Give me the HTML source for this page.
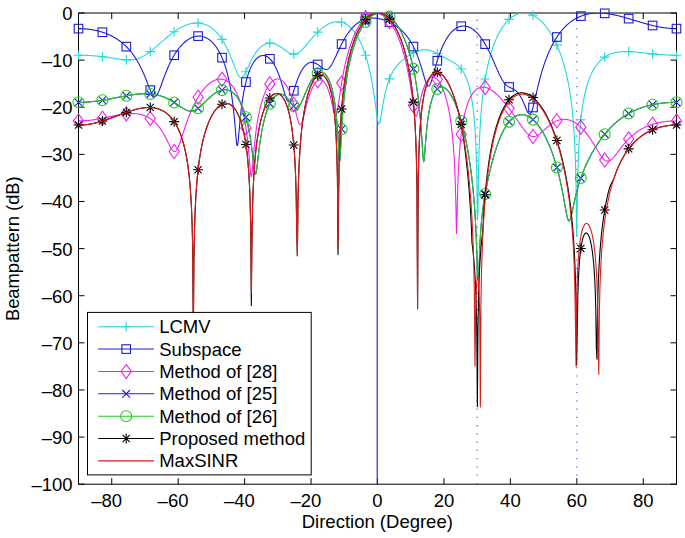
<!DOCTYPE html><html><head><meta charset="utf-8"><style>html,body{margin:0;padding:0;background:#fff;overflow:hidden}svg{display:block}</style></head><body>
<svg width="685" height="538" viewBox="0 0 685 538">
<rect width="685" height="538" fill="#fff"/>
<rect x="78.5" y="13.0" width="598.0" height="471.2" fill="none" stroke="#000" stroke-width="1"/>
<path d="M111.72,484.2v-6M111.72,13.0v6M178.17,484.2v-6M178.17,13.0v6M244.61,484.2v-6M244.61,13.0v6M311.06,484.2v-6M311.06,13.0v6M377.50,484.2v-6M377.50,13.0v6M443.94,484.2v-6M443.94,13.0v6M510.39,484.2v-6M510.39,13.0v6M576.83,484.2v-6M576.83,13.0v6M643.28,484.2v-6M643.28,13.0v6M78.5,13.00h6M676.5,13.00h-6M78.5,60.12h6M676.5,60.12h-6M78.5,107.24h6M676.5,107.24h-6M78.5,154.36h6M676.5,154.36h-6M78.5,201.48h6M676.5,201.48h-6M78.5,248.60h6M676.5,248.60h-6M78.5,295.72h6M676.5,295.72h-6M78.5,342.84h6M676.5,342.84h-6M78.5,389.96h6M676.5,389.96h-6M78.5,437.08h6M676.5,437.08h-6M78.5,484.20h6M676.5,484.20h-6" stroke="#000" stroke-width="1" fill="none"/>
<g clip-path="url(#c)">
<defs><clipPath id="c"><rect x="78.5" y="13.0" width="598.0" height="471.2"/></clipPath></defs>
<line x1="477.17" y1="13.0" x2="477.17" y2="484.2" stroke="#4848d0" stroke-width="1.1" stroke-dasharray="1.2,7.07" stroke-dashoffset="1.5"/>
<line x1="576.83" y1="13.0" x2="576.83" y2="484.2" stroke="#4848d0" stroke-width="1.1" stroke-dasharray="1.2,7.07" stroke-dashoffset="1.5"/>
<line x1="377.20" y1="13.0" x2="377.20" y2="484.2" stroke="#1c1cd8" stroke-width="1.1"/>
</g>
<path clip-path="url(#c)" d="M78.50,55.21 L79.10,55.21 L79.70,55.21 L80.29,55.22 L80.89,55.22 L81.49,55.23 L82.09,55.24 L82.69,55.25 L83.28,55.27 L83.88,55.28 L84.48,55.30 L85.08,55.32 L85.68,55.34 L86.27,55.36 L86.87,55.39 L87.47,55.41 L88.07,55.44 L88.67,55.47 L89.26,55.50 L89.86,55.54 L90.46,55.57 L91.06,55.61 L91.66,55.65 L92.25,55.69 L92.85,55.73 L93.45,55.78 L94.05,55.83 L94.65,55.88 L95.24,55.93 L95.84,55.98 L96.44,56.03 L97.04,56.09 L97.64,56.15 L98.23,56.21 L98.83,56.27 L99.43,56.34 L100.03,56.40 L100.63,56.47 L101.22,56.54 L101.82,56.61 L102.42,56.68 L103.02,56.76 L103.62,56.83 L104.21,56.91 L104.81,56.99 L105.41,57.07 L106.01,57.16 L106.61,57.24 L107.20,57.33 L107.80,57.41 L108.40,57.50 L109.00,57.59 L109.60,57.68 L110.19,57.77 L110.79,57.86 L111.39,57.96 L111.99,58.05 L112.59,58.14 L113.18,58.24 L113.78,58.33 L114.38,58.42 L114.98,58.52 L115.58,58.61 L116.17,58.70 L116.77,58.79 L117.37,58.88 L117.97,58.97 L118.57,59.06 L119.16,59.14 L119.76,59.23 L120.36,59.31 L120.96,59.38 L121.56,59.46 L122.15,59.53 L122.75,59.59 L123.35,59.65 L123.95,59.71 L124.55,59.76 L125.14,59.80 L125.74,59.84 L126.34,59.88 L126.94,59.90 L127.54,59.92 L128.13,59.93 L128.73,59.93 L129.33,59.92 L129.93,59.90 L130.53,59.88 L131.12,59.84 L131.72,59.79 L132.32,59.73 L132.92,59.66 L133.52,59.58 L134.11,59.48 L134.71,59.37 L135.31,59.25 L135.91,59.11 L136.51,58.96 L137.10,58.80 L137.70,58.62 L138.30,58.42 L138.90,58.22 L139.50,57.99 L140.09,57.75 L140.69,57.50 L141.29,57.23 L141.89,56.95 L142.49,56.66 L143.08,56.34 L143.68,56.02 L144.28,55.68 L144.88,55.33 L145.48,54.96 L146.07,54.58 L146.67,54.19 L147.27,53.79 L147.87,53.37 L148.47,52.95 L149.06,52.51 L149.66,52.06 L150.26,51.61 L150.86,51.14 L151.46,50.67 L152.05,50.19 L152.65,49.70 L153.25,49.20 L153.85,48.70 L154.45,48.20 L155.04,47.69 L155.64,47.17 L156.24,46.65 L156.84,46.13 L157.44,45.60 L158.03,45.08 L158.63,44.55 L159.23,44.02 L159.83,43.49 L160.43,42.96 L161.02,42.43 L161.62,41.91 L162.22,41.38 L162.82,40.86 L163.42,40.33 L164.01,39.82 L164.61,39.30 L165.21,38.79 L165.81,38.28 L166.41,37.77 L167.00,37.27 L167.60,36.78 L168.20,36.29 L168.80,35.80 L169.40,35.32 L169.99,34.85 L170.59,34.38 L171.19,33.92 L171.79,33.47 L172.39,33.02 L172.98,32.58 L173.58,32.15 L174.18,31.73 L174.78,31.31 L175.38,30.90 L175.97,30.50 L176.57,30.11 L177.17,29.73 L177.77,29.35 L178.37,28.99 L178.96,28.63 L179.56,28.29 L180.16,27.95 L180.76,27.62 L181.36,27.30 L181.95,27.00 L182.55,26.70 L183.15,26.41 L183.75,26.13 L184.35,25.87 L184.94,25.61 L185.54,25.37 L186.14,25.13 L186.74,24.91 L187.34,24.70 L187.93,24.50 L188.53,24.31 L189.13,24.14 L189.73,23.97 L190.33,23.82 L190.92,23.68 L191.52,23.55 L192.12,23.44 L192.72,23.34 L193.32,23.25 L193.91,23.17 L194.51,23.11 L195.11,23.06 L195.71,23.03 L196.31,23.00 L196.90,23.00 L197.50,23.00 L198.10,23.03 L198.70,23.06 L199.30,23.11 L199.89,23.18 L200.49,23.26 L201.09,23.36 L201.69,23.47 L202.29,23.60 L202.88,23.75 L203.48,23.91 L204.08,24.09 L204.68,24.29 L205.28,24.50 L205.87,24.74 L206.47,24.99 L207.07,25.26 L207.67,25.54 L208.27,25.85 L208.86,26.18 L209.46,26.53 L210.06,26.90 L210.66,27.29 L211.26,27.70 L211.85,28.13 L212.45,28.59 L213.05,29.06 L213.65,29.57 L214.25,30.09 L214.84,30.64 L215.44,31.22 L216.04,31.82 L216.64,32.45 L217.24,33.10 L217.83,33.78 L218.43,34.49 L219.03,35.24 L219.63,36.01 L220.23,36.81 L220.82,37.64 L221.42,38.51 L222.02,39.40 L222.62,40.34 L223.22,41.31 L223.81,42.31 L224.41,43.35 L225.01,44.43 L225.61,45.54 L226.21,46.70 L226.80,47.90 L227.40,49.13 L228.00,50.40 L228.60,51.72 L229.20,53.07 L229.79,54.47 L230.39,55.90 L230.99,57.36 L231.59,58.86 L232.19,60.38 L232.78,61.93 L233.38,63.49 L233.98,65.06 L234.58,66.62 L235.18,68.16 L235.77,69.67 L236.37,71.11 L236.97,72.48 L237.57,73.74 L238.17,74.87 L238.76,75.83 L239.36,76.62 L239.96,77.19 L240.56,77.54 L241.16,77.67 L241.75,77.56 L242.35,77.23 L242.95,76.69 L243.55,75.97 L244.15,75.09 L244.74,74.07 L245.34,72.96 L245.94,71.76 L246.54,70.51 L247.14,69.22 L247.73,67.91 L248.33,66.60 L248.93,65.30 L249.53,64.01 L250.13,62.75 L250.72,61.52 L251.32,60.32 L251.92,59.16 L252.52,58.04 L253.12,56.96 L253.71,55.93 L254.31,54.94 L254.91,53.99 L255.51,53.09 L256.11,52.23 L256.70,51.41 L257.30,50.64 L257.90,49.91 L258.50,49.22 L259.10,48.57 L259.69,47.96 L260.29,47.39 L260.89,46.86 L261.49,46.37 L262.09,45.91 L262.68,45.49 L263.28,45.11 L263.88,44.76 L264.48,44.45 L265.08,44.17 L265.67,43.92 L266.27,43.71 L266.87,43.53 L267.47,43.38 L268.07,43.26 L268.66,43.18 L269.26,43.12 L269.86,43.09 L270.46,43.09 L271.06,43.12 L271.65,43.18 L272.25,43.27 L272.85,43.38 L273.45,43.52 L274.05,43.69 L274.64,43.88 L275.24,44.09 L275.84,44.33 L276.44,44.58 L277.04,44.87 L277.63,45.17 L278.23,45.49 L278.83,45.83 L279.43,46.18 L280.03,46.56 L280.62,46.94 L281.22,47.34 L281.82,47.75 L282.42,48.17 L283.02,48.60 L283.61,49.03 L284.21,49.46 L284.81,49.89 L285.41,50.32 L286.01,50.74 L286.60,51.15 L287.20,51.55 L287.80,51.93 L288.40,52.30 L289.00,52.64 L289.59,52.95 L290.19,53.23 L290.79,53.48 L291.39,53.69 L291.99,53.86 L292.58,53.99 L293.18,54.07 L293.78,54.11 L294.38,54.09 L294.98,54.02 L295.57,53.91 L296.17,53.74 L296.77,53.52 L297.37,53.25 L297.97,52.94 L298.56,52.58 L299.16,52.17 L299.76,51.72 L300.36,51.24 L300.96,50.72 L301.55,50.16 L302.15,49.58 L302.75,48.97 L303.35,48.34 L303.95,47.69 L304.54,47.02 L305.14,46.33 L305.74,45.64 L306.34,44.94 L306.94,44.23 L307.53,43.52 L308.13,42.80 L308.73,42.08 L309.33,41.37 L309.93,40.66 L310.52,39.95 L311.12,39.25 L311.72,38.55 L312.32,37.86 L312.92,37.18 L313.51,36.51 L314.11,35.85 L314.71,35.20 L315.31,34.56 L315.91,33.93 L316.50,33.32 L317.10,32.72 L317.70,32.13 L318.30,31.55 L318.90,30.99 L319.49,30.44 L320.09,29.91 L320.69,29.39 L321.29,28.88 L321.89,28.39 L322.48,27.92 L323.08,27.46 L323.68,27.02 L324.28,26.59 L324.88,26.18 L325.47,25.79 L326.07,25.41 L326.67,25.05 L327.27,24.71 L327.87,24.38 L328.46,24.07 L329.06,23.78 L329.66,23.50 L330.26,23.25 L330.86,23.01 L331.45,22.79 L332.05,22.59 L332.65,22.41 L333.25,22.25 L333.85,22.11 L334.44,21.99 L335.04,21.89 L335.64,21.81 L336.24,21.75 L336.84,21.71 L337.43,21.69 L338.03,21.70 L338.63,21.72 L339.23,21.77 L339.83,21.84 L340.42,21.94 L341.02,22.06 L341.62,22.20 L342.22,22.36 L342.82,22.55 L343.41,22.77 L344.01,23.01 L344.61,23.28 L345.21,23.57 L345.81,23.89 L346.40,24.24 L347.00,24.62 L347.60,25.02 L348.20,25.46 L348.80,25.92 L349.39,26.42 L349.99,26.94 L350.59,27.50 L351.19,28.09 L351.79,28.71 L352.38,29.37 L352.98,30.06 L353.58,30.79 L354.18,31.56 L354.78,32.37 L355.37,33.21 L355.97,34.10 L356.57,35.02 L357.17,35.99 L357.77,37.01 L358.36,38.07 L358.96,39.18 L359.56,40.34 L360.16,41.56 L360.76,42.83 L361.35,44.15 L361.95,45.54 L362.55,46.99 L363.15,48.50 L363.75,50.08 L364.34,51.74 L364.94,53.47 L365.54,55.29 L366.14,57.20 L366.74,59.20 L367.33,61.29 L367.93,63.50 L368.53,65.82 L369.13,68.27 L369.73,70.85 L370.32,73.58 L370.92,76.47 L371.52,79.53 L372.12,82.77 L372.72,86.22 L373.31,89.89 L373.91,93.78 L374.51,97.89 L375.11,102.22 L375.71,106.70 L376.30,111.24 L376.90,115.61 L377.50,119.48 L378.10,122.40 L378.70,123.89 L379.29,123.73 L379.89,122.05 L380.49,119.26 L381.09,115.85 L381.69,112.18 L382.28,108.51 L382.88,104.98 L383.48,101.63 L384.08,98.51 L384.68,95.61 L385.27,92.92 L385.87,90.44 L386.47,88.13 L387.07,86.00 L387.67,84.02 L388.26,82.18 L388.86,80.48 L389.46,78.89 L390.06,77.40 L390.66,76.02 L391.25,74.72 L391.85,73.51 L392.45,72.37 L393.05,71.30 L393.65,70.30 L394.24,69.35 L394.84,68.46 L395.44,67.61 L396.04,66.81 L396.64,66.05 L397.23,65.33 L397.83,64.64 L398.43,63.98 L399.03,63.35 L399.63,62.75 L400.22,62.17 L400.82,61.61 L401.42,61.07 L402.02,60.55 L402.62,60.04 L403.21,59.55 L403.81,59.07 L404.41,58.61 L405.01,58.16 L405.61,57.72 L406.20,57.29 L406.80,56.87 L407.40,56.45 L408.00,56.05 L408.60,55.66 L409.19,55.28 L409.79,54.90 L410.39,54.54 L410.99,54.19 L411.59,53.84 L412.18,53.51 L412.78,53.19 L413.38,52.88 L413.98,52.58 L414.58,52.29 L415.17,52.02 L415.77,51.76 L416.37,51.51 L416.97,51.28 L417.57,51.07 L418.16,50.86 L418.76,50.68 L419.36,50.51 L419.96,50.36 L420.56,50.22 L421.15,50.11 L421.75,50.01 L422.35,49.92 L422.95,49.86 L423.55,49.81 L424.14,49.79 L424.74,49.78 L425.34,49.79 L425.94,49.82 L426.54,49.87 L427.13,49.93 L427.73,50.02 L428.33,50.12 L428.93,50.24 L429.53,50.38 L430.12,50.54 L430.72,50.71 L431.32,50.90 L431.92,51.10 L432.52,51.32 L433.11,51.55 L433.71,51.80 L434.31,52.06 L434.91,52.33 L435.51,52.62 L436.10,52.91 L436.70,53.21 L437.30,53.53 L437.90,53.85 L438.50,54.17 L439.09,54.50 L439.69,54.84 L440.29,55.18 L440.89,55.52 L441.49,55.86 L442.08,56.20 L442.68,56.55 L443.28,56.89 L443.88,57.23 L444.48,57.56 L445.07,57.90 L445.67,58.23 L446.27,58.56 L446.87,58.88 L447.47,59.21 L448.06,59.53 L448.66,59.84 L449.26,60.16 L449.86,60.48 L450.46,60.79 L451.05,61.11 L451.65,61.43 L452.25,61.76 L452.85,62.10 L453.45,62.44 L454.04,62.80 L454.64,63.17 L455.24,63.56 L455.84,63.96 L456.44,64.39 L457.03,64.84 L457.63,65.33 L458.23,65.84 L458.83,66.39 L459.43,66.97 L460.02,67.60 L460.62,68.27 L461.22,69.00 L461.82,69.78 L462.42,70.63 L463.01,71.54 L463.61,72.52 L464.21,73.58 L464.81,74.73 L465.41,75.98 L466.00,77.33 L466.60,78.80 L467.20,80.39 L467.80,82.13 L468.40,84.04 L468.99,86.12 L469.59,88.41 L470.19,90.94 L470.79,93.75 L471.39,96.88 L471.98,100.39 L472.58,104.38 L473.18,108.96 L473.78,114.30 L474.38,120.64 L474.97,128.40 L475.57,138.28 L476.17,151.76 L476.77,172.68 L477.37,219.78 L477.96,211.92 L478.56,168.83 L479.16,147.96 L479.76,133.97 L480.36,123.39 L480.95,114.86 L481.55,107.69 L482.15,101.50 L482.75,96.05 L483.35,91.18 L483.94,86.78 L484.54,82.76 L485.14,79.06 L485.74,75.64 L486.34,72.45 L486.93,69.47 L487.53,66.68 L488.13,64.04 L488.73,61.56 L489.33,59.21 L489.92,56.98 L490.52,54.85 L491.12,52.84 L491.72,50.91 L492.32,49.07 L492.91,47.32 L493.51,45.64 L494.11,44.03 L494.71,42.49 L495.31,41.01 L495.90,39.59 L496.50,38.23 L497.10,36.92 L497.70,35.66 L498.30,34.46 L498.89,33.30 L499.49,32.18 L500.09,31.11 L500.69,30.08 L501.29,29.10 L501.88,28.15 L502.48,27.23 L503.08,26.36 L503.68,25.52 L504.28,24.71 L504.87,23.94 L505.47,23.20 L506.07,22.49 L506.67,21.81 L507.27,21.16 L507.86,20.54 L508.46,19.94 L509.06,19.38 L509.66,18.84 L510.26,18.33 L510.85,17.85 L511.45,17.39 L512.05,16.95 L512.65,16.54 L513.25,16.16 L513.84,15.80 L514.44,15.46 L515.04,15.14 L515.64,14.85 L516.24,14.58 L516.83,14.33 L517.43,14.11 L518.03,13.90 L518.63,13.72 L519.23,13.56 L519.82,13.42 L520.42,13.30 L521.02,13.20 L521.62,13.12 L522.22,13.06 L522.81,13.02 L523.41,13.00 L524.01,13.00 L524.61,13.02 L525.21,13.06 L525.80,13.12 L526.40,13.20 L527.00,13.29 L527.60,13.41 L528.20,13.55 L528.79,13.70 L529.39,13.87 L529.99,14.07 L530.59,14.28 L531.19,14.51 L531.78,14.76 L532.38,15.03 L532.98,15.32 L533.58,15.62 L534.18,15.95 L534.77,16.30 L535.37,16.66 L535.97,17.05 L536.57,17.45 L537.17,17.87 L537.76,18.32 L538.36,18.78 L538.96,19.27 L539.56,19.77 L540.16,20.30 L540.75,20.84 L541.35,21.41 L541.95,22.00 L542.55,22.61 L543.15,23.24 L543.74,23.89 L544.34,24.57 L544.94,25.27 L545.54,25.99 L546.14,26.74 L546.73,27.51 L547.33,28.31 L547.93,29.13 L548.53,29.98 L549.13,30.85 L549.72,31.75 L550.32,32.69 L550.92,33.64 L551.52,34.63 L552.12,35.66 L552.71,36.71 L553.31,37.79 L553.91,38.91 L554.51,40.07 L555.11,41.26 L555.70,42.49 L556.30,43.77 L556.90,45.08 L557.50,46.44 L558.10,47.84 L558.69,49.30 L559.29,50.80 L559.89,52.36 L560.49,53.98 L561.09,55.66 L561.68,57.41 L562.28,59.23 L562.88,61.12 L563.48,63.10 L564.08,65.16 L564.67,67.32 L565.27,69.59 L565.87,71.98 L566.47,74.49 L567.07,77.15 L567.66,79.97 L568.26,82.97 L568.86,86.18 L569.46,89.62 L570.06,93.35 L570.65,97.40 L571.25,101.86 L571.85,106.79 L572.45,112.33 L573.05,118.66 L573.64,126.05 L574.24,134.94 L574.84,146.12 L575.44,161.27 L576.04,184.89 L576.63,236.52 L577.23,205.85 L577.83,173.06 L578.43,155.05 L579.03,142.72 L579.62,133.39 L580.22,125.91 L580.82,119.68 L581.42,114.37 L582.02,109.75 L582.61,105.67 L583.21,102.03 L583.81,98.75 L584.41,95.78 L585.01,93.05 L585.60,90.55 L586.20,88.25 L586.80,86.11 L587.40,84.12 L588.00,82.27 L588.59,80.54 L589.19,78.91 L589.79,77.39 L590.39,75.95 L590.99,74.60 L591.58,73.33 L592.18,72.12 L592.78,70.98 L593.38,69.90 L593.98,68.88 L594.57,67.91 L595.17,66.99 L595.77,66.12 L596.37,65.29 L596.97,64.50 L597.56,63.75 L598.16,63.03 L598.76,62.35 L599.36,61.71 L599.96,61.09 L600.55,60.51 L601.15,59.95 L601.75,59.42 L602.35,58.92 L602.95,58.44 L603.54,57.99 L604.14,57.56 L604.74,57.14 L605.34,56.75 L605.94,56.38 L606.53,56.03 L607.13,55.70 L607.73,55.39 L608.33,55.09 L608.93,54.80 L609.52,54.54 L610.12,54.29 L610.72,54.05 L611.32,53.83 L611.92,53.62 L612.51,53.42 L613.11,53.24 L613.71,53.06 L614.31,52.90 L614.91,52.75 L615.50,52.61 L616.10,52.48 L616.70,52.36 L617.30,52.26 L617.90,52.15 L618.49,52.06 L619.09,51.98 L619.69,51.91 L620.29,51.84 L620.89,51.78 L621.48,51.73 L622.08,51.68 L622.68,51.65 L623.28,51.61 L623.88,51.59 L624.47,51.57 L625.07,51.56 L625.67,51.55 L626.27,51.55 L626.87,51.55 L627.46,51.55 L628.06,51.57 L628.66,51.58 L629.26,51.60 L629.86,51.63 L630.45,51.65 L631.05,51.68 L631.65,51.72 L632.25,51.76 L632.85,51.80 L633.44,51.84 L634.04,51.89 L634.64,51.93 L635.24,51.99 L635.84,52.04 L636.43,52.09 L637.03,52.15 L637.63,52.21 L638.23,52.27 L638.83,52.33 L639.42,52.39 L640.02,52.46 L640.62,52.52 L641.22,52.59 L641.82,52.65 L642.41,52.72 L643.01,52.79 L643.61,52.86 L644.21,52.92 L644.81,52.99 L645.40,53.06 L646.00,53.13 L646.60,53.20 L647.20,53.27 L647.80,53.33 L648.39,53.40 L648.99,53.47 L649.59,53.53 L650.19,53.60 L650.79,53.67 L651.38,53.73 L651.98,53.79 L652.58,53.86 L653.18,53.92 L653.78,53.98 L654.37,54.04 L654.97,54.10 L655.57,54.16 L656.17,54.21 L656.77,54.27 L657.36,54.32 L657.96,54.37 L658.56,54.42 L659.16,54.47 L659.76,54.52 L660.35,54.57 L660.95,54.61 L661.55,54.66 L662.15,54.70 L662.75,54.74 L663.34,54.78 L663.94,54.82 L664.54,54.85 L665.14,54.89 L665.74,54.92 L666.33,54.95 L666.93,54.98 L667.53,55.01 L668.13,55.03 L668.73,55.06 L669.32,55.08 L669.92,55.10 L670.52,55.12 L671.12,55.14 L671.72,55.15 L672.31,55.17 L672.91,55.18 L673.51,55.19 L674.11,55.20 L674.71,55.20 L675.30,55.21 L675.90,55.21 L676.50,55.21" stroke="#20dada" stroke-width="1.1" fill="none" stroke-linejoin="round"/>
<g stroke-width="1.1"><path d="M73.70,55.21h9.6M78.50,50.41v9.6" stroke="#20dada" fill="none"/><path d="M97.62,56.68h9.6M102.42,51.88v9.6" stroke="#20dada" fill="none"/><path d="M121.54,59.88h9.6M126.34,55.08v9.6" stroke="#20dada" fill="none"/><path d="M145.46,51.61h9.6M150.26,46.81v9.6" stroke="#20dada" fill="none"/><path d="M169.38,31.73h9.6M174.18,26.93v9.6" stroke="#20dada" fill="none"/><path d="M193.30,23.03h9.6M198.10,18.23v9.6" stroke="#20dada" fill="none"/><path d="M217.22,39.40h9.6M222.02,34.60v9.6" stroke="#20dada" fill="none"/><path d="M241.14,71.76h9.6M245.94,66.96v9.6" stroke="#20dada" fill="none"/><path d="M265.06,43.09h9.6M269.86,38.29v9.6" stroke="#20dada" fill="none"/><path d="M288.98,54.11h9.6M293.78,49.31v9.6" stroke="#20dada" fill="none"/><path d="M312.90,32.13h9.6M317.70,27.33v9.6" stroke="#20dada" fill="none"/><path d="M336.82,22.20h9.6M341.62,17.40v9.6" stroke="#20dada" fill="none"/><path d="M360.74,55.29h9.6M365.54,50.49v9.6" stroke="#20dada" fill="none"/><path d="M384.66,78.89h9.6M389.46,74.09v9.6" stroke="#20dada" fill="none"/><path d="M408.58,52.88h9.6M413.38,48.08v9.6" stroke="#20dada" fill="none"/><path d="M432.50,53.53h9.6M437.30,48.73v9.6" stroke="#20dada" fill="none"/><path d="M456.42,69.00h9.6M461.22,64.20v9.6" stroke="#20dada" fill="none"/><path d="M480.34,79.06h9.6M485.14,74.26v9.6" stroke="#20dada" fill="none"/><path d="M504.26,19.38h9.6M509.06,14.58v9.6" stroke="#20dada" fill="none"/><path d="M528.18,15.32h9.6M532.98,10.52v9.6" stroke="#20dada" fill="none"/><path d="M552.10,45.08h9.6M556.90,40.28v9.6" stroke="#20dada" fill="none"/><path d="M576.02,119.68h9.6M580.82,114.88v9.6" stroke="#20dada" fill="none"/><path d="M599.94,57.14h9.6M604.74,52.34v9.6" stroke="#20dada" fill="none"/><path d="M623.86,51.58h9.6M628.66,46.78v9.6" stroke="#20dada" fill="none"/><path d="M647.78,53.86h9.6M652.58,49.06v9.6" stroke="#20dada" fill="none"/><path d="M671.70,55.21h9.6M676.50,50.41v9.6" stroke="#20dada" fill="none"/></g>
<path clip-path="url(#c)" d="M78.50,28.62 L79.10,28.62 L79.70,28.63 L80.29,28.64 L80.89,28.65 L81.49,28.67 L82.09,28.70 L82.69,28.72 L83.28,28.75 L83.88,28.79 L84.48,28.83 L85.08,28.87 L85.68,28.92 L86.27,28.98 L86.87,29.03 L87.47,29.09 L88.07,29.16 L88.67,29.23 L89.26,29.31 L89.86,29.39 L90.46,29.47 L91.06,29.56 L91.66,29.65 L92.25,29.75 L92.85,29.85 L93.45,29.96 L94.05,30.07 L94.65,30.19 L95.24,30.32 L95.84,30.44 L96.44,30.58 L97.04,30.71 L97.64,30.86 L98.23,31.01 L98.83,31.16 L99.43,31.32 L100.03,31.49 L100.63,31.66 L101.22,31.84 L101.82,32.02 L102.42,32.21 L103.02,32.41 L103.62,32.61 L104.21,32.82 L104.81,33.03 L105.41,33.25 L106.01,33.48 L106.61,33.71 L107.20,33.96 L107.80,34.21 L108.40,34.46 L109.00,34.73 L109.60,35.00 L110.19,35.28 L110.79,35.57 L111.39,35.86 L111.99,36.17 L112.59,36.48 L113.18,36.80 L113.78,37.13 L114.38,37.47 L114.98,37.82 L115.58,38.18 L116.17,38.55 L116.77,38.93 L117.37,39.32 L117.97,39.72 L118.57,40.14 L119.16,40.56 L119.76,40.99 L120.36,41.44 L120.96,41.90 L121.56,42.37 L122.15,42.86 L122.75,43.35 L123.35,43.87 L123.95,44.39 L124.55,44.93 L125.14,45.49 L125.74,46.06 L126.34,46.65 L126.94,47.25 L127.54,47.88 L128.13,48.51 L128.73,49.17 L129.33,49.85 L129.93,50.54 L130.53,51.26 L131.12,52.00 L131.72,52.75 L132.32,53.54 L132.92,54.34 L133.52,55.17 L134.11,56.02 L134.71,56.90 L135.31,57.80 L135.91,58.73 L136.51,59.69 L137.10,60.68 L137.70,61.70 L138.30,62.75 L138.90,63.84 L139.50,64.95 L140.09,66.10 L140.69,67.29 L141.29,68.51 L141.89,69.77 L142.49,71.06 L143.08,72.39 L143.68,73.75 L144.28,75.15 L144.88,76.59 L145.48,78.05 L146.07,79.54 L146.67,81.06 L147.27,82.59 L147.87,84.13 L148.47,85.67 L149.06,87.19 L149.66,88.68 L150.26,90.11 L150.86,91.47 L151.46,92.72 L152.05,93.85 L152.65,94.80 L153.25,95.56 L153.85,96.10 L154.45,96.39 L155.04,96.43 L155.64,96.21 L156.24,95.73 L156.84,95.01 L157.44,94.08 L158.03,92.96 L158.63,91.68 L159.23,90.28 L159.83,88.78 L160.43,87.21 L161.02,85.59 L161.62,83.95 L162.22,82.29 L162.82,80.64 L163.42,79.00 L164.01,77.38 L164.61,75.78 L165.21,74.22 L165.81,72.69 L166.41,71.19 L167.00,69.74 L167.60,68.32 L168.20,66.94 L168.80,65.61 L169.40,64.31 L169.99,63.04 L170.59,61.82 L171.19,60.64 L171.79,59.49 L172.39,58.37 L172.98,57.29 L173.58,56.25 L174.18,55.24 L174.78,54.26 L175.38,53.31 L175.97,52.40 L176.57,51.51 L177.17,50.66 L177.77,49.83 L178.37,49.03 L178.96,48.26 L179.56,47.52 L180.16,46.80 L180.76,46.11 L181.36,45.45 L181.95,44.81 L182.55,44.19 L183.15,43.60 L183.75,43.04 L184.35,42.49 L184.94,41.97 L185.54,41.48 L186.14,41.00 L186.74,40.55 L187.34,40.12 L187.93,39.72 L188.53,39.33 L189.13,38.97 L189.73,38.63 L190.33,38.31 L190.92,38.01 L191.52,37.74 L192.12,37.48 L192.72,37.25 L193.32,37.03 L193.91,36.84 L194.51,36.67 L195.11,36.52 L195.71,36.40 L196.31,36.29 L196.90,36.21 L197.50,36.14 L198.10,36.10 L198.70,36.08 L199.30,36.09 L199.89,36.11 L200.49,36.16 L201.09,36.23 L201.69,36.33 L202.29,36.45 L202.88,36.59 L203.48,36.75 L204.08,36.94 L204.68,37.16 L205.28,37.40 L205.87,37.66 L206.47,37.95 L207.07,38.27 L207.67,38.62 L208.27,38.99 L208.86,39.39 L209.46,39.82 L210.06,40.28 L210.66,40.78 L211.26,41.30 L211.85,41.86 L212.45,42.44 L213.05,43.07 L213.65,43.73 L214.25,44.42 L214.84,45.16 L215.44,45.93 L216.04,46.75 L216.64,47.61 L217.24,48.51 L217.83,49.46 L218.43,50.46 L219.03,51.51 L219.63,52.61 L220.23,53.78 L220.82,55.00 L221.42,56.28 L222.02,57.64 L222.62,59.06 L223.22,60.57 L223.81,62.15 L224.41,63.83 L225.01,65.60 L225.61,67.47 L226.21,69.46 L226.80,71.57 L227.40,73.81 L228.00,76.21 L228.60,78.77 L229.20,81.52 L229.79,84.48 L230.39,87.67 L230.99,91.14 L231.59,94.92 L232.19,99.06 L232.78,103.62 L233.38,108.67 L233.98,114.28 L234.58,120.51 L235.18,127.34 L235.77,134.52 L236.37,141.20 L236.97,145.55 L237.57,145.53 L238.17,141.22 L238.76,134.70 L239.36,127.76 L239.96,121.19 L240.56,115.23 L241.16,109.88 L241.75,105.10 L242.35,100.80 L242.95,96.92 L243.55,93.41 L244.15,90.20 L244.74,87.27 L245.34,84.58 L245.94,82.10 L246.54,79.80 L247.14,77.68 L247.73,75.71 L248.33,73.89 L248.93,72.19 L249.53,70.61 L250.13,69.13 L250.72,67.76 L251.32,66.49 L251.92,65.30 L252.52,64.20 L253.12,63.18 L253.71,62.24 L254.31,61.36 L254.91,60.56 L255.51,59.82 L256.11,59.15 L256.70,58.54 L257.30,57.99 L257.90,57.50 L258.50,57.07 L259.10,56.69 L259.69,56.36 L260.29,56.09 L260.89,55.88 L261.49,55.71 L262.09,55.60 L262.68,55.53 L263.28,55.52 L263.88,55.56 L264.48,55.65 L265.08,55.80 L265.67,55.99 L266.27,56.23 L266.87,56.53 L267.47,56.88 L268.07,57.28 L268.66,57.73 L269.26,58.24 L269.86,58.80 L270.46,59.42 L271.06,60.10 L271.65,60.83 L272.25,61.63 L272.85,62.48 L273.45,63.40 L274.05,64.39 L274.64,65.44 L275.24,66.56 L275.84,67.75 L276.44,69.01 L277.04,70.34 L277.63,71.75 L278.23,73.24 L278.83,74.80 L279.43,76.44 L280.03,78.16 L280.62,79.96 L281.22,81.83 L281.82,83.76 L282.42,85.75 L283.02,87.78 L283.61,89.82 L284.21,91.86 L284.81,93.86 L285.41,95.75 L286.01,97.50 L286.60,99.02 L287.20,100.26 L287.80,101.14 L288.40,101.61 L289.00,101.65 L289.59,101.26 L290.19,100.47 L290.79,99.33 L291.39,97.91 L291.99,96.28 L292.58,94.50 L293.18,92.64 L293.78,90.73 L294.38,88.82 L294.98,86.94 L295.57,85.10 L296.17,83.32 L296.77,81.60 L297.37,79.96 L297.97,78.40 L298.56,76.92 L299.16,75.52 L299.76,74.20 L300.36,72.96 L300.96,71.79 L301.55,70.71 L302.15,69.69 L302.75,68.75 L303.35,67.89 L303.95,67.09 L304.54,66.35 L305.14,65.69 L305.74,65.09 L306.34,64.55 L306.94,64.07 L307.53,63.65 L308.13,63.29 L308.73,62.99 L309.33,62.75 L309.93,62.56 L310.52,62.42 L311.12,62.34 L311.72,62.31 L312.32,62.33 L312.92,62.40 L313.51,62.51 L314.11,62.67 L314.71,62.88 L315.31,63.13 L315.91,63.42 L316.50,63.74 L317.10,64.10 L317.70,64.49 L318.30,64.91 L318.90,65.34 L319.49,65.80 L320.09,66.26 L320.69,66.73 L321.29,67.19 L321.89,67.64 L322.48,68.06 L323.08,68.45 L323.68,68.80 L324.28,69.08 L324.88,69.30 L325.47,69.44 L326.07,69.48 L326.67,69.43 L327.27,69.26 L327.87,68.99 L328.46,68.59 L329.06,68.08 L329.66,67.45 L330.26,66.72 L330.86,65.88 L331.45,64.95 L332.05,63.94 L332.65,62.85 L333.25,61.70 L333.85,60.50 L334.44,59.26 L335.04,57.99 L335.64,56.70 L336.24,55.40 L336.84,54.10 L337.43,52.79 L338.03,51.49 L338.63,50.21 L339.23,48.94 L339.83,47.68 L340.42,46.45 L341.02,45.25 L341.62,44.07 L342.22,42.92 L342.82,41.79 L343.41,40.70 L344.01,39.63 L344.61,38.59 L345.21,37.59 L345.81,36.61 L346.40,35.67 L347.00,34.75 L347.60,33.87 L348.20,33.01 L348.80,32.19 L349.39,31.39 L349.99,30.62 L350.59,29.88 L351.19,29.17 L351.79,28.48 L352.38,27.82 L352.98,27.19 L353.58,26.58 L354.18,26.00 L354.78,25.44 L355.37,24.91 L355.97,24.40 L356.57,23.91 L357.17,23.45 L357.77,23.01 L358.36,22.59 L358.96,22.20 L359.56,21.82 L360.16,21.47 L360.76,21.13 L361.35,20.82 L361.95,20.52 L362.55,20.24 L363.15,19.98 L363.75,19.74 L364.34,19.52 L364.94,19.32 L365.54,19.13 L366.14,18.96 L366.74,18.80 L367.33,18.66 L367.93,18.54 L368.53,18.43 L369.13,18.34 L369.73,18.26 L370.32,18.19 L370.92,18.14 L371.52,18.10 L372.12,18.08 L372.72,18.07 L373.31,18.07 L373.91,18.08 L374.51,18.11 L375.11,18.15 L375.71,18.20 L376.30,18.26 L376.90,18.33 L377.50,18.42 L378.10,18.51 L378.70,18.61 L379.29,18.73 L379.89,18.86 L380.49,18.99 L381.09,19.14 L381.69,19.29 L382.28,19.46 L382.88,19.63 L383.48,19.82 L384.08,20.01 L384.68,20.22 L385.27,20.43 L385.87,20.65 L386.47,20.88 L387.07,21.12 L387.67,21.38 L388.26,21.64 L388.86,21.91 L389.46,22.19 L390.06,22.48 L390.66,22.78 L391.25,23.09 L391.85,23.41 L392.45,23.74 L393.05,24.09 L393.65,24.44 L394.24,24.81 L394.84,25.19 L395.44,25.58 L396.04,25.98 L396.64,26.40 L397.23,26.83 L397.83,27.28 L398.43,27.74 L399.03,28.22 L399.63,28.71 L400.22,29.22 L400.82,29.74 L401.42,30.29 L402.02,30.85 L402.62,31.44 L403.21,32.04 L403.81,32.67 L404.41,33.32 L405.01,33.99 L405.61,34.68 L406.20,35.41 L406.80,36.16 L407.40,36.93 L408.00,37.74 L408.60,38.58 L409.19,39.45 L409.79,40.36 L410.39,41.30 L410.99,42.28 L411.59,43.29 L412.18,44.35 L412.78,45.45 L413.38,46.60 L413.98,47.80 L414.58,49.04 L415.17,50.34 L415.77,51.69 L416.37,53.10 L416.97,54.57 L417.57,56.10 L418.16,57.69 L418.76,59.35 L419.36,61.07 L419.96,62.86 L420.56,64.72 L421.15,66.63 L421.75,68.61 L422.35,70.62 L422.95,72.67 L423.55,74.73 L424.14,76.78 L424.74,78.76 L425.34,80.64 L425.94,82.36 L426.54,83.84 L427.13,85.01 L427.73,85.80 L428.33,86.16 L428.93,86.06 L429.53,85.50 L430.12,84.51 L430.72,83.16 L431.32,81.50 L431.92,79.62 L432.52,77.59 L433.11,75.46 L433.71,73.28 L434.31,71.09 L434.91,68.92 L435.51,66.79 L436.10,64.70 L436.70,62.68 L437.30,60.72 L437.90,58.83 L438.50,57.02 L439.09,55.27 L439.69,53.59 L440.29,51.98 L440.89,50.44 L441.49,48.96 L442.08,47.55 L442.68,46.20 L443.28,44.90 L443.88,43.66 L444.48,42.48 L445.07,41.35 L445.67,40.27 L446.27,39.24 L446.87,38.26 L447.47,37.33 L448.06,36.44 L448.66,35.59 L449.26,34.79 L449.86,34.02 L450.46,33.30 L451.05,32.61 L451.65,31.97 L452.25,31.36 L452.85,30.78 L453.45,30.25 L454.04,29.74 L454.64,29.27 L455.24,28.84 L455.84,28.44 L456.44,28.06 L457.03,27.73 L457.63,27.42 L458.23,27.14 L458.83,26.90 L459.43,26.68 L460.02,26.49 L460.62,26.34 L461.22,26.21 L461.82,26.11 L462.42,26.04 L463.01,26.00 L463.61,25.98 L464.21,26.00 L464.81,26.04 L465.41,26.11 L466.00,26.21 L466.60,26.34 L467.20,26.49 L467.80,26.67 L468.40,26.88 L468.99,27.12 L469.59,27.38 L470.19,27.67 L470.79,27.99 L471.39,28.34 L471.98,28.71 L472.58,29.11 L473.18,29.54 L473.78,30.00 L474.38,30.48 L474.97,31.00 L475.57,31.54 L476.17,32.11 L476.77,32.71 L477.37,33.33 L477.96,33.99 L478.56,34.67 L479.16,35.39 L479.76,36.13 L480.36,36.90 L480.95,37.70 L481.55,38.53 L482.15,39.39 L482.75,40.28 L483.35,41.20 L483.94,42.15 L484.54,43.13 L485.14,44.14 L485.74,45.18 L486.34,46.25 L486.93,47.34 L487.53,48.47 L488.13,49.63 L488.73,50.81 L489.33,52.02 L489.92,53.25 L490.52,54.51 L491.12,55.80 L491.72,57.10 L492.32,58.43 L492.91,59.77 L493.51,61.13 L494.11,62.50 L494.71,63.87 L495.31,65.26 L495.90,66.64 L496.50,68.02 L497.10,69.39 L497.70,70.74 L498.30,72.08 L498.89,73.38 L499.49,74.65 L500.09,75.88 L500.69,77.06 L501.29,78.19 L501.88,79.26 L502.48,80.27 L503.08,81.20 L503.68,82.07 L504.28,82.87 L504.87,83.60 L505.47,84.25 L506.07,84.84 L506.67,85.37 L507.27,85.84 L507.86,86.27 L508.46,86.65 L509.06,86.99 L509.66,87.31 L510.26,87.60 L510.85,87.89 L511.45,88.17 L512.05,88.46 L512.65,88.76 L513.25,89.08 L513.84,89.42 L514.44,89.80 L515.04,90.21 L515.64,90.67 L516.24,91.17 L516.83,91.72 L517.43,92.34 L518.03,93.01 L518.63,93.75 L519.23,94.56 L519.82,95.44 L520.42,96.39 L521.02,97.42 L521.62,98.52 L522.22,99.70 L522.81,100.95 L523.41,102.28 L524.01,103.65 L524.61,105.08 L525.21,106.54 L525.80,107.99 L526.40,109.41 L527.00,110.76 L527.60,111.96 L528.20,112.96 L528.79,113.68 L529.39,114.06 L529.99,114.02 L530.59,113.54 L531.19,112.62 L531.78,111.26 L532.38,109.52 L532.98,107.48 L533.58,105.20 L534.18,102.75 L534.77,100.19 L535.37,97.57 L535.97,94.95 L536.57,92.33 L537.17,89.75 L537.76,87.22 L538.36,84.75 L538.96,82.35 L539.56,80.01 L540.16,77.75 L540.75,75.57 L541.35,73.45 L541.95,71.40 L542.55,69.43 L543.15,67.51 L543.74,65.67 L544.34,63.88 L544.94,62.15 L545.54,60.48 L546.14,58.87 L546.73,57.30 L547.33,55.79 L547.93,54.32 L548.53,52.91 L549.13,51.53 L549.72,50.20 L550.32,48.91 L550.92,47.66 L551.52,46.44 L552.12,45.27 L552.71,44.13 L553.31,43.02 L553.91,41.95 L554.51,40.90 L555.11,39.89 L555.70,38.91 L556.30,37.96 L556.90,37.03 L557.50,36.14 L558.10,35.26 L558.69,34.42 L559.29,33.60 L559.89,32.80 L560.49,32.02 L561.09,31.27 L561.68,30.54 L562.28,29.83 L562.88,29.15 L563.48,28.48 L564.08,27.83 L564.67,27.20 L565.27,26.60 L565.87,26.00 L566.47,25.43 L567.07,24.88 L567.66,24.34 L568.26,23.82 L568.86,23.31 L569.46,22.82 L570.06,22.35 L570.65,21.89 L571.25,21.45 L571.85,21.02 L572.45,20.60 L573.05,20.20 L573.64,19.81 L574.24,19.44 L574.84,19.08 L575.44,18.73 L576.04,18.40 L576.63,18.07 L577.23,17.76 L577.83,17.46 L578.43,17.18 L579.03,16.90 L579.62,16.64 L580.22,16.38 L580.82,16.14 L581.42,15.91 L582.02,15.69 L582.61,15.47 L583.21,15.27 L583.81,15.08 L584.41,14.90 L585.01,14.73 L585.60,14.56 L586.20,14.41 L586.80,14.26 L587.40,14.13 L588.00,14.00 L588.59,13.88 L589.19,13.77 L589.79,13.66 L590.39,13.57 L590.99,13.48 L591.58,13.40 L592.18,13.33 L592.78,13.27 L593.38,13.21 L593.98,13.16 L594.57,13.12 L595.17,13.08 L595.77,13.05 L596.37,13.03 L596.97,13.01 L597.56,13.00 L598.16,13.00 L598.76,13.00 L599.36,13.01 L599.96,13.03 L600.55,13.05 L601.15,13.07 L601.75,13.11 L602.35,13.14 L602.95,13.19 L603.54,13.23 L604.14,13.29 L604.74,13.35 L605.34,13.41 L605.94,13.48 L606.53,13.55 L607.13,13.63 L607.73,13.71 L608.33,13.79 L608.93,13.88 L609.52,13.98 L610.12,14.08 L610.72,14.18 L611.32,14.29 L611.92,14.40 L612.51,14.51 L613.11,14.63 L613.71,14.75 L614.31,14.87 L614.91,15.00 L615.50,15.13 L616.10,15.27 L616.70,15.40 L617.30,15.54 L617.90,15.69 L618.49,15.83 L619.09,15.98 L619.69,16.13 L620.29,16.28 L620.89,16.44 L621.48,16.60 L622.08,16.75 L622.68,16.92 L623.28,17.08 L623.88,17.24 L624.47,17.41 L625.07,17.58 L625.67,17.75 L626.27,17.92 L626.87,18.10 L627.46,18.27 L628.06,18.45 L628.66,18.62 L629.26,18.80 L629.86,18.98 L630.45,19.16 L631.05,19.34 L631.65,19.52 L632.25,19.70 L632.85,19.88 L633.44,20.06 L634.04,20.24 L634.64,20.43 L635.24,20.61 L635.84,20.79 L636.43,20.97 L637.03,21.15 L637.63,21.34 L638.23,21.52 L638.83,21.70 L639.42,21.88 L640.02,22.06 L640.62,22.24 L641.22,22.41 L641.82,22.59 L642.41,22.77 L643.01,22.94 L643.61,23.11 L644.21,23.29 L644.81,23.46 L645.40,23.63 L646.00,23.80 L646.60,23.96 L647.20,24.13 L647.80,24.29 L648.39,24.45 L648.99,24.61 L649.59,24.76 L650.19,24.92 L650.79,25.07 L651.38,25.22 L651.98,25.37 L652.58,25.51 L653.18,25.66 L653.78,25.80 L654.37,25.93 L654.97,26.07 L655.57,26.20 L656.17,26.33 L656.77,26.46 L657.36,26.58 L657.96,26.70 L658.56,26.82 L659.16,26.93 L659.76,27.04 L660.35,27.15 L660.95,27.25 L661.55,27.35 L662.15,27.45 L662.75,27.54 L663.34,27.63 L663.94,27.72 L664.54,27.80 L665.14,27.88 L665.74,27.95 L666.33,28.02 L666.93,28.09 L667.53,28.15 L668.13,28.21 L668.73,28.27 L669.32,28.32 L669.92,28.37 L670.52,28.41 L671.12,28.45 L671.72,28.49 L672.31,28.52 L672.91,28.54 L673.51,28.57 L674.11,28.59 L674.71,28.60 L675.30,28.61 L675.90,28.62 L676.50,28.62" stroke="#1c1cd8" stroke-width="1.1" fill="none" stroke-linejoin="round"/>
<g stroke-width="1.1"><rect x="74.20" y="24.32" width="8.6" height="8.6" stroke="#1c1cd8" fill="none"/><rect x="98.12" y="27.91" width="8.6" height="8.6" stroke="#1c1cd8" fill="none"/><rect x="122.04" y="42.35" width="8.6" height="8.6" stroke="#1c1cd8" fill="none"/><rect x="145.96" y="85.81" width="8.6" height="8.6" stroke="#1c1cd8" fill="none"/><rect x="169.88" y="50.94" width="8.6" height="8.6" stroke="#1c1cd8" fill="none"/><rect x="193.80" y="31.80" width="8.6" height="8.6" stroke="#1c1cd8" fill="none"/><rect x="217.72" y="53.34" width="8.6" height="8.6" stroke="#1c1cd8" fill="none"/><rect x="241.64" y="77.80" width="8.6" height="8.6" stroke="#1c1cd8" fill="none"/><rect x="265.56" y="54.50" width="8.6" height="8.6" stroke="#1c1cd8" fill="none"/><rect x="289.48" y="86.43" width="8.6" height="8.6" stroke="#1c1cd8" fill="none"/><rect x="313.40" y="60.19" width="8.6" height="8.6" stroke="#1c1cd8" fill="none"/><rect x="337.32" y="39.77" width="8.6" height="8.6" stroke="#1c1cd8" fill="none"/><rect x="361.24" y="14.83" width="8.6" height="8.6" stroke="#1c1cd8" fill="none"/><rect x="385.16" y="17.89" width="8.6" height="8.6" stroke="#1c1cd8" fill="none"/><rect x="409.08" y="42.30" width="8.6" height="8.6" stroke="#1c1cd8" fill="none"/><rect x="433.00" y="56.42" width="8.6" height="8.6" stroke="#1c1cd8" fill="none"/><rect x="456.92" y="21.91" width="8.6" height="8.6" stroke="#1c1cd8" fill="none"/><rect x="480.84" y="39.84" width="8.6" height="8.6" stroke="#1c1cd8" fill="none"/><rect x="504.76" y="82.69" width="8.6" height="8.6" stroke="#1c1cd8" fill="none"/><rect x="528.68" y="103.18" width="8.6" height="8.6" stroke="#1c1cd8" fill="none"/><rect x="552.60" y="32.73" width="8.6" height="8.6" stroke="#1c1cd8" fill="none"/><rect x="576.52" y="11.84" width="8.6" height="8.6" stroke="#1c1cd8" fill="none"/><rect x="600.44" y="9.05" width="8.6" height="8.6" stroke="#1c1cd8" fill="none"/><rect x="624.36" y="14.32" width="8.6" height="8.6" stroke="#1c1cd8" fill="none"/><rect x="648.28" y="21.21" width="8.6" height="8.6" stroke="#1c1cd8" fill="none"/><rect x="672.20" y="24.32" width="8.6" height="8.6" stroke="#1c1cd8" fill="none"/></g>
<path clip-path="url(#c)" d="M78.50,120.92 L79.10,120.92 L79.70,120.92 L80.29,120.91 L80.89,120.89 L81.49,120.88 L82.09,120.85 L82.69,120.83 L83.28,120.80 L83.88,120.77 L84.48,120.73 L85.08,120.70 L85.68,120.65 L86.27,120.61 L86.87,120.56 L87.47,120.50 L88.07,120.45 L88.67,120.39 L89.26,120.32 L89.86,120.26 L90.46,120.19 L91.06,120.11 L91.66,120.04 L92.25,119.96 L92.85,119.87 L93.45,119.79 L94.05,119.70 L94.65,119.61 L95.24,119.52 L95.84,119.42 L96.44,119.32 L97.04,119.22 L97.64,119.12 L98.23,119.01 L98.83,118.91 L99.43,118.80 L100.03,118.68 L100.63,118.57 L101.22,118.46 L101.82,118.34 L102.42,118.22 L103.02,118.10 L103.62,117.98 L104.21,117.86 L104.81,117.74 L105.41,117.61 L106.01,117.49 L106.61,117.36 L107.20,117.24 L107.80,117.11 L108.40,116.99 L109.00,116.86 L109.60,116.73 L110.19,116.61 L110.79,116.48 L111.39,116.36 L111.99,116.23 L112.59,116.11 L113.18,115.99 L113.78,115.86 L114.38,115.74 L114.98,115.62 L115.58,115.51 L116.17,115.39 L116.77,115.28 L117.37,115.16 L117.97,115.05 L118.57,114.95 L119.16,114.84 L119.76,114.74 L120.36,114.64 L120.96,114.54 L121.56,114.45 L122.15,114.36 L122.75,114.27 L123.35,114.19 L123.95,114.11 L124.55,114.04 L125.14,113.97 L125.74,113.91 L126.34,113.85 L126.94,113.79 L127.54,113.74 L128.13,113.70 L128.73,113.66 L129.33,113.63 L129.93,113.60 L130.53,113.58 L131.12,113.57 L131.72,113.56 L132.32,113.56 L132.92,113.57 L133.52,113.59 L134.11,113.61 L134.71,113.64 L135.31,113.69 L135.91,113.74 L136.51,113.79 L137.10,113.86 L137.70,113.94 L138.30,114.03 L138.90,114.13 L139.50,114.24 L140.09,114.36 L140.69,114.49 L141.29,114.64 L141.89,114.80 L142.49,114.97 L143.08,115.15 L143.68,115.34 L144.28,115.56 L144.88,115.78 L145.48,116.02 L146.07,116.28 L146.67,116.55 L147.27,116.84 L147.87,117.14 L148.47,117.47 L149.06,117.81 L149.66,118.17 L150.26,118.55 L150.86,118.95 L151.46,119.37 L152.05,119.82 L152.65,120.28 L153.25,120.77 L153.85,121.29 L154.45,121.83 L155.04,122.39 L155.64,122.98 L156.24,123.60 L156.84,124.25 L157.44,124.92 L158.03,125.63 L158.63,126.37 L159.23,127.14 L159.83,127.94 L160.43,128.78 L161.02,129.65 L161.62,130.56 L162.22,131.50 L162.82,132.48 L163.42,133.49 L164.01,134.54 L164.61,135.62 L165.21,136.73 L165.81,137.88 L166.41,139.05 L167.00,140.24 L167.60,141.45 L168.20,142.66 L168.80,143.87 L169.40,145.06 L169.99,146.22 L170.59,147.32 L171.19,148.36 L171.79,149.29 L172.39,150.09 L172.98,150.74 L173.58,151.20 L174.18,151.46 L174.78,151.49 L175.38,151.27 L175.97,150.81 L176.57,150.12 L177.17,149.19 L177.77,148.06 L178.37,146.75 L178.96,145.28 L179.56,143.70 L180.16,142.01 L180.76,140.26 L181.36,138.45 L181.95,136.62 L182.55,134.77 L183.15,132.93 L183.75,131.09 L184.35,129.27 L184.94,127.47 L185.54,125.71 L186.14,123.97 L186.74,122.28 L187.34,120.62 L187.93,119.00 L188.53,117.41 L189.13,115.87 L189.73,114.37 L190.33,112.91 L190.92,111.48 L191.52,110.10 L192.12,108.75 L192.72,107.44 L193.32,106.16 L193.91,104.92 L194.51,103.72 L195.11,102.55 L195.71,101.42 L196.31,100.32 L196.90,99.25 L197.50,98.21 L198.10,97.20 L198.70,96.23 L199.30,95.28 L199.89,94.36 L200.49,93.48 L201.09,92.62 L201.69,91.79 L202.29,90.99 L202.88,90.21 L203.48,89.46 L204.08,88.74 L204.68,88.05 L205.28,87.38 L205.87,86.74 L206.47,86.12 L207.07,85.53 L207.67,84.97 L208.27,84.43 L208.86,83.92 L209.46,83.43 L210.06,82.97 L210.66,82.53 L211.26,82.12 L211.85,81.74 L212.45,81.37 L213.05,81.04 L213.65,80.73 L214.25,80.45 L214.84,80.19 L215.44,79.96 L216.04,79.75 L216.64,79.57 L217.24,79.42 L217.83,79.29 L218.43,79.19 L219.03,79.12 L219.63,79.08 L220.23,79.07 L220.82,79.08 L221.42,79.13 L222.02,79.20 L222.62,79.31 L223.22,79.45 L223.81,79.62 L224.41,79.82 L225.01,80.05 L225.61,80.32 L226.21,80.63 L226.80,80.97 L227.40,81.34 L228.00,81.76 L228.60,82.22 L229.20,82.71 L229.79,83.26 L230.39,83.84 L230.99,84.47 L231.59,85.15 L232.19,85.88 L232.78,86.66 L233.38,87.49 L233.98,88.39 L234.58,89.34 L235.18,90.36 L235.77,91.45 L236.37,92.60 L236.97,93.84 L237.57,95.16 L238.17,96.56 L238.76,98.06 L239.36,99.66 L239.96,101.37 L240.56,103.20 L241.16,105.17 L241.75,107.28 L242.35,109.55 L242.95,112.00 L243.55,114.65 L244.15,117.53 L244.74,120.67 L245.34,124.10 L245.94,127.88 L246.54,132.06 L247.14,136.71 L247.73,141.91 L248.33,147.74 L248.93,154.26 L249.53,161.38 L250.13,168.63 L250.72,174.63 L251.32,176.94 L251.92,174.16 L252.52,167.87 L253.12,160.46 L253.71,153.23 L254.31,146.63 L254.91,140.71 L255.51,135.41 L256.11,130.66 L256.70,126.38 L257.30,122.50 L257.90,118.96 L258.50,115.73 L259.10,112.75 L259.69,110.00 L260.29,107.45 L260.89,105.09 L261.49,102.89 L262.09,100.85 L262.68,98.94 L263.28,97.15 L263.88,95.49 L264.48,93.93 L265.08,92.47 L265.67,91.11 L266.27,89.84 L266.87,88.66 L267.47,87.55 L268.07,86.52 L268.66,85.57 L269.26,84.69 L269.86,83.88 L270.46,83.13 L271.06,82.45 L271.65,81.84 L272.25,81.28 L272.85,80.79 L273.45,80.36 L274.05,79.98 L274.64,79.66 L275.24,79.40 L275.84,79.20 L276.44,79.06 L277.04,78.97 L277.63,78.94 L278.23,78.97 L278.83,79.06 L279.43,79.20 L280.03,79.40 L280.62,79.67 L281.22,79.99 L281.82,80.38 L282.42,80.83 L283.02,81.34 L283.61,81.92 L284.21,82.57 L284.81,83.29 L285.41,84.08 L286.01,84.94 L286.60,85.89 L287.20,86.91 L287.80,88.02 L288.40,89.21 L289.00,90.49 L289.59,91.87 L290.19,93.34 L290.79,94.91 L291.39,96.59 L291.99,98.37 L292.58,100.26 L293.18,102.26 L293.78,104.36 L294.38,106.56 L294.98,108.85 L295.57,111.20 L296.17,113.58 L296.77,115.94 L297.37,118.22 L297.97,120.33 L298.56,122.15 L299.16,123.57 L299.76,124.46 L300.36,124.75 L300.96,124.39 L301.55,123.42 L302.15,121.93 L302.75,120.03 L303.35,117.84 L303.95,115.47 L304.54,113.01 L305.14,110.54 L305.74,108.10 L306.34,105.73 L306.94,103.45 L307.53,101.28 L308.13,99.21 L308.73,97.26 L309.33,95.42 L309.93,93.70 L310.52,92.09 L311.12,90.59 L311.72,89.20 L312.32,87.91 L312.92,86.73 L313.51,85.64 L314.11,84.65 L314.71,83.76 L315.31,82.97 L315.91,82.26 L316.50,81.65 L317.10,81.13 L317.70,80.70 L318.30,80.36 L318.90,80.11 L319.49,79.96 L320.09,79.90 L320.69,79.93 L321.29,80.06 L321.89,80.28 L322.48,80.61 L323.08,81.04 L323.68,81.59 L324.28,82.24 L324.88,83.01 L325.47,83.91 L326.07,84.94 L326.67,86.10 L327.27,87.41 L327.87,88.87 L328.46,90.49 L329.06,92.28 L329.66,94.25 L330.26,96.40 L330.86,98.72 L331.45,101.22 L332.05,103.86 L332.65,106.58 L333.25,109.28 L333.85,111.81 L334.44,113.93 L335.04,115.36 L335.64,115.80 L336.24,115.06 L336.84,113.17 L337.43,110.31 L338.03,106.78 L338.63,102.85 L339.23,98.77 L339.83,94.67 L340.42,90.66 L341.02,86.79 L341.62,83.08 L342.22,79.55 L342.82,76.19 L343.41,72.99 L344.01,69.96 L344.61,67.07 L345.21,64.33 L345.81,61.72 L346.40,59.23 L347.00,56.86 L347.60,54.60 L348.20,52.44 L348.80,50.38 L349.39,48.40 L349.99,46.51 L350.59,44.71 L351.19,42.97 L351.79,41.31 L352.38,39.72 L352.98,38.20 L353.58,36.73 L354.18,35.33 L354.78,33.99 L355.37,32.70 L355.97,31.46 L356.57,30.28 L357.17,29.14 L357.77,28.06 L358.36,27.02 L358.96,26.02 L359.56,25.07 L360.16,24.16 L360.76,23.30 L361.35,22.47 L361.95,21.69 L362.55,20.94 L363.15,20.23 L363.75,19.56 L364.34,18.93 L364.94,18.33 L365.54,17.76 L366.14,17.24 L366.74,16.74 L367.33,16.28 L367.93,15.85 L368.53,15.46 L369.13,15.10 L369.73,14.77 L370.32,14.47 L370.92,14.21 L371.52,13.98 L372.12,13.77 L372.72,13.60 L373.31,13.46 L373.91,13.35 L374.51,13.28 L375.11,13.23 L375.71,13.21 L376.30,13.23 L376.90,13.27 L377.50,13.35 L378.10,13.45 L378.70,13.59 L379.29,13.76 L379.89,13.96 L380.49,14.19 L381.09,14.45 L381.69,14.74 L382.28,15.06 L382.88,15.42 L383.48,15.81 L384.08,16.23 L384.68,16.69 L385.27,17.17 L385.87,17.70 L386.47,18.25 L387.07,18.84 L387.67,19.47 L388.26,20.13 L388.86,20.83 L389.46,21.57 L390.06,22.35 L390.66,23.16 L391.25,24.01 L391.85,24.91 L392.45,25.85 L393.05,26.83 L393.65,27.85 L394.24,28.92 L394.84,30.04 L395.44,31.20 L396.04,32.42 L396.64,33.68 L397.23,35.01 L397.83,36.38 L398.43,37.82 L399.03,39.32 L399.63,40.88 L400.22,42.50 L400.82,44.20 L401.42,45.97 L402.02,47.82 L402.62,49.76 L403.21,51.77 L403.81,53.89 L404.41,56.10 L405.01,58.41 L405.61,60.84 L406.20,63.39 L406.80,66.06 L407.40,68.88 L408.00,71.84 L408.60,74.96 L409.19,78.24 L409.79,81.70 L410.39,85.34 L410.99,89.15 L411.59,93.12 L412.18,97.21 L412.78,101.35 L413.38,105.42 L413.98,109.21 L414.58,112.46 L415.17,114.85 L415.77,116.11 L416.37,116.13 L416.97,115.03 L417.57,113.06 L418.16,110.56 L418.76,107.78 L419.36,104.93 L419.96,102.13 L420.56,99.46 L421.15,96.95 L421.75,94.62 L422.35,92.47 L422.95,90.50 L423.55,88.71 L424.14,87.07 L424.74,85.59 L425.34,84.26 L425.94,83.06 L426.54,82.00 L427.13,81.05 L427.73,80.22 L428.33,79.50 L428.93,78.88 L429.53,78.36 L430.12,77.94 L430.72,77.61 L431.32,77.37 L431.92,77.21 L432.52,77.14 L433.11,77.16 L433.71,77.25 L434.31,77.43 L434.91,77.68 L435.51,78.01 L436.10,78.42 L436.70,78.91 L437.30,79.48 L437.90,80.13 L438.50,80.86 L439.09,81.67 L439.69,82.56 L440.29,83.55 L440.89,84.62 L441.49,85.78 L442.08,87.04 L442.68,88.40 L443.28,89.87 L443.88,91.45 L444.48,93.14 L445.07,94.97 L445.67,96.93 L446.27,99.05 L446.87,101.32 L447.47,103.78 L448.06,106.44 L448.66,109.33 L449.26,112.47 L449.86,115.90 L450.46,119.69 L451.05,123.88 L451.65,128.57 L452.25,133.89 L452.85,139.99 L453.45,147.15 L454.04,155.79 L454.64,166.65 L455.24,181.16 L455.84,202.61 L456.44,233.52 L457.03,217.39 L457.63,191.03 L458.23,174.19 L458.83,162.25 L459.43,153.09 L460.02,145.70 L460.62,139.54 L461.22,134.28 L461.82,129.71 L462.42,125.69 L463.01,122.12 L463.61,118.91 L464.21,116.02 L464.81,113.39 L465.41,111.00 L466.00,108.81 L466.60,106.80 L467.20,104.96 L467.80,103.26 L468.40,101.69 L468.99,100.25 L469.59,98.91 L470.19,97.68 L470.79,96.55 L471.39,95.50 L471.98,94.53 L472.58,93.64 L473.18,92.83 L473.78,92.08 L474.38,91.40 L474.97,90.78 L475.57,90.21 L476.17,89.71 L476.77,89.25 L477.37,88.85 L477.96,88.49 L478.56,88.18 L479.16,87.92 L479.76,87.69 L480.36,87.51 L480.95,87.37 L481.55,87.27 L482.15,87.20 L482.75,87.17 L483.35,87.17 L483.94,87.21 L484.54,87.28 L485.14,87.38 L485.74,87.51 L486.34,87.67 L486.93,87.85 L487.53,88.07 L488.13,88.31 L488.73,88.58 L489.33,88.87 L489.92,89.19 L490.52,89.53 L491.12,89.89 L491.72,90.28 L492.32,90.69 L492.91,91.12 L493.51,91.57 L494.11,92.04 L494.71,92.52 L495.31,93.03 L495.90,93.55 L496.50,94.09 L497.10,94.65 L497.70,95.23 L498.30,95.82 L498.89,96.42 L499.49,97.04 L500.09,97.67 L500.69,98.32 L501.29,98.98 L501.88,99.65 L502.48,100.34 L503.08,101.03 L503.68,101.74 L504.28,102.46 L504.87,103.19 L505.47,103.93 L506.07,104.68 L506.67,105.44 L507.27,106.20 L507.86,106.98 L508.46,107.77 L509.06,108.56 L509.66,109.36 L510.26,110.17 L510.85,110.99 L511.45,111.81 L512.05,112.64 L512.65,113.48 L513.25,114.32 L513.84,115.17 L514.44,116.02 L515.04,116.88 L515.64,117.74 L516.24,118.60 L516.83,119.47 L517.43,120.34 L518.03,121.21 L518.63,122.07 L519.23,122.94 L519.82,123.80 L520.42,124.66 L521.02,125.51 L521.62,126.35 L522.22,127.18 L522.81,127.99 L523.41,128.79 L524.01,129.57 L524.61,130.33 L525.21,131.06 L525.80,131.76 L526.40,132.42 L527.00,133.05 L527.60,133.64 L528.20,134.18 L528.79,134.68 L529.39,135.12 L529.99,135.51 L530.59,135.84 L531.19,136.11 L531.78,136.32 L532.38,136.47 L532.98,136.56 L533.58,136.59 L534.18,136.55 L534.77,136.46 L535.37,136.31 L535.97,136.11 L536.57,135.86 L537.17,135.56 L537.76,135.22 L538.36,134.84 L538.96,134.42 L539.56,133.98 L540.16,133.50 L540.75,133.01 L541.35,132.50 L541.95,131.98 L542.55,131.44 L543.15,130.90 L543.74,130.35 L544.34,129.80 L544.94,129.25 L545.54,128.70 L546.14,128.16 L546.73,127.63 L547.33,127.11 L547.93,126.59 L548.53,126.09 L549.13,125.61 L549.72,125.13 L550.32,124.67 L550.92,124.23 L551.52,123.80 L552.12,123.40 L552.71,123.00 L553.31,122.63 L553.91,122.28 L554.51,121.94 L555.11,121.63 L555.70,121.33 L556.30,121.05 L556.90,120.80 L557.50,120.56 L558.10,120.34 L558.69,120.15 L559.29,119.97 L559.89,119.82 L560.49,119.68 L561.09,119.57 L561.68,119.47 L562.28,119.40 L562.88,119.34 L563.48,119.31 L564.08,119.30 L564.67,119.30 L565.27,119.33 L565.87,119.38 L566.47,119.44 L567.07,119.53 L567.66,119.64 L568.26,119.77 L568.86,119.92 L569.46,120.09 L570.06,120.28 L570.65,120.48 L571.25,120.71 L571.85,120.96 L572.45,121.23 L573.05,121.52 L573.64,121.83 L574.24,122.17 L574.84,122.52 L575.44,122.89 L576.04,123.28 L576.63,123.69 L577.23,124.13 L577.83,124.58 L578.43,125.05 L579.03,125.55 L579.62,126.07 L580.22,126.60 L580.82,127.16 L581.42,127.74 L582.02,128.34 L582.61,128.96 L583.21,129.60 L583.81,130.26 L584.41,130.95 L585.01,131.65 L585.60,132.38 L586.20,133.13 L586.80,133.89 L587.40,134.68 L588.00,135.49 L588.59,136.32 L589.19,137.17 L589.79,138.04 L590.39,138.92 L590.99,139.82 L591.58,140.75 L592.18,141.68 L592.78,142.63 L593.38,143.60 L593.98,144.57 L594.57,145.56 L595.17,146.55 L595.77,147.55 L596.37,148.55 L596.97,149.55 L597.56,150.54 L598.16,151.53 L598.76,152.50 L599.36,153.45 L599.96,154.37 L600.55,155.26 L601.15,156.12 L601.75,156.93 L602.35,157.69 L602.95,158.39 L603.54,159.02 L604.14,159.58 L604.74,160.07 L605.34,160.47 L605.94,160.78 L606.53,161.00 L607.13,161.13 L607.73,161.17 L608.33,161.12 L608.93,160.98 L609.52,160.75 L610.12,160.45 L610.72,160.06 L611.32,159.61 L611.92,159.10 L612.51,158.53 L613.11,157.91 L613.71,157.25 L614.31,156.56 L614.91,155.83 L615.50,155.08 L616.10,154.31 L616.70,153.53 L617.30,152.74 L617.90,151.95 L618.49,151.15 L619.09,150.35 L619.69,149.56 L620.29,148.77 L620.89,147.99 L621.48,147.21 L622.08,146.45 L622.68,145.70 L623.28,144.96 L623.88,144.23 L624.47,143.52 L625.07,142.82 L625.67,142.13 L626.27,141.46 L626.87,140.81 L627.46,140.17 L628.06,139.54 L628.66,138.93 L629.26,138.34 L629.86,137.75 L630.45,137.19 L631.05,136.63 L631.65,136.10 L632.25,135.57 L632.85,135.06 L633.44,134.56 L634.04,134.08 L634.64,133.61 L635.24,133.15 L635.84,132.70 L636.43,132.27 L637.03,131.84 L637.63,131.43 L638.23,131.04 L638.83,130.65 L639.42,130.27 L640.02,129.90 L640.62,129.55 L641.22,129.20 L641.82,128.87 L642.41,128.54 L643.01,128.23 L643.61,127.92 L644.21,127.62 L644.81,127.33 L645.40,127.05 L646.00,126.78 L646.60,126.52 L647.20,126.26 L647.80,126.02 L648.39,125.78 L648.99,125.55 L649.59,125.32 L650.19,125.10 L650.79,124.89 L651.38,124.69 L651.98,124.49 L652.58,124.30 L653.18,124.12 L653.78,123.94 L654.37,123.77 L654.97,123.61 L655.57,123.45 L656.17,123.30 L656.77,123.15 L657.36,123.01 L657.96,122.87 L658.56,122.74 L659.16,122.61 L659.76,122.49 L660.35,122.38 L660.95,122.27 L661.55,122.16 L662.15,122.06 L662.75,121.96 L663.34,121.87 L663.94,121.79 L664.54,121.70 L665.14,121.63 L665.74,121.55 L666.33,121.48 L666.93,121.42 L667.53,121.36 L668.13,121.30 L668.73,121.25 L669.32,121.20 L669.92,121.15 L670.52,121.11 L671.12,121.08 L671.72,121.04 L672.31,121.02 L672.91,120.99 L673.51,120.97 L674.11,120.95 L674.71,120.94 L675.30,120.93 L675.90,120.92 L676.50,120.92" stroke="#f020f0" stroke-width="1.1" fill="none" stroke-linejoin="round"/>
<g stroke-width="1.1"><path d="M78.50,113.82L83.60,120.92L78.50,128.02L73.40,120.92Z" stroke="#f020f0" fill="none"/><path d="M102.42,111.12L107.52,118.22L102.42,125.32L97.32,118.22Z" stroke="#f020f0" fill="none"/><path d="M126.34,106.75L131.44,113.85L126.34,120.95L121.24,113.85Z" stroke="#f020f0" fill="none"/><path d="M150.26,111.45L155.36,118.55L150.26,125.65L145.16,118.55Z" stroke="#f020f0" fill="none"/><path d="M174.18,144.36L179.28,151.46L174.18,158.56L169.08,151.46Z" stroke="#f020f0" fill="none"/><path d="M198.10,90.10L203.20,97.20L198.10,104.30L193.00,97.20Z" stroke="#f020f0" fill="none"/><path d="M222.02,72.10L227.12,79.20L222.02,86.30L216.92,79.20Z" stroke="#f020f0" fill="none"/><path d="M245.94,120.78L251.04,127.88L245.94,134.98L240.84,127.88Z" stroke="#f020f0" fill="none"/><path d="M269.86,76.78L274.96,83.88L269.86,90.98L264.76,83.88Z" stroke="#f020f0" fill="none"/><path d="M293.78,97.26L298.88,104.36L293.78,111.46L288.68,104.36Z" stroke="#f020f0" fill="none"/><path d="M317.70,73.60L322.80,80.70L317.70,87.80L312.60,80.70Z" stroke="#f020f0" fill="none"/><path d="M341.62,75.98L346.72,83.08L341.62,90.18L336.52,83.08Z" stroke="#f020f0" fill="none"/><path d="M365.54,10.66L370.64,17.76L365.54,24.86L360.44,17.76Z" stroke="#f020f0" fill="none"/><path d="M389.46,14.47L394.56,21.57L389.46,28.67L384.36,21.57Z" stroke="#f020f0" fill="none"/><path d="M413.38,98.32L418.48,105.42L413.38,112.52L408.28,105.42Z" stroke="#f020f0" fill="none"/><path d="M437.30,72.38L442.40,79.48L437.30,86.58L432.20,79.48Z" stroke="#f020f0" fill="none"/><path d="M461.22,127.18L466.32,134.28L461.22,141.38L456.12,134.28Z" stroke="#f020f0" fill="none"/><path d="M485.14,80.28L490.24,87.38L485.14,94.48L480.04,87.38Z" stroke="#f020f0" fill="none"/><path d="M509.06,101.46L514.16,108.56L509.06,115.66L503.96,108.56Z" stroke="#f020f0" fill="none"/><path d="M532.98,129.46L538.08,136.56L532.98,143.66L527.88,136.56Z" stroke="#f020f0" fill="none"/><path d="M556.90,113.70L562.00,120.80L556.90,127.90L551.80,120.80Z" stroke="#f020f0" fill="none"/><path d="M580.82,120.06L585.92,127.16L580.82,134.26L575.72,127.16Z" stroke="#f020f0" fill="none"/><path d="M604.74,152.97L609.84,160.07L604.74,167.17L599.64,160.07Z" stroke="#f020f0" fill="none"/><path d="M628.66,131.83L633.76,138.93L628.66,146.03L623.56,138.93Z" stroke="#f020f0" fill="none"/><path d="M652.58,117.20L657.68,124.30L652.58,131.40L647.48,124.30Z" stroke="#f020f0" fill="none"/><path d="M676.50,113.82L681.60,120.92L676.50,128.02L671.40,120.92Z" stroke="#f020f0" fill="none"/></g>
<path clip-path="url(#c)" d="M78.50,102.32 L79.10,102.31 L79.70,102.31 L80.29,102.30 L80.89,102.29 L81.49,102.28 L82.09,102.27 L82.69,102.25 L83.28,102.23 L83.88,102.20 L84.48,102.18 L85.08,102.15 L85.68,102.12 L86.27,102.08 L86.87,102.05 L87.47,102.01 L88.07,101.96 L88.67,101.92 L89.26,101.87 L89.86,101.82 L90.46,101.77 L91.06,101.71 L91.66,101.66 L92.25,101.60 L92.85,101.53 L93.45,101.47 L94.05,101.40 L94.65,101.33 L95.24,101.26 L95.84,101.19 L96.44,101.11 L97.04,101.03 L97.64,100.95 L98.23,100.87 L98.83,100.79 L99.43,100.70 L100.03,100.61 L100.63,100.52 L101.22,100.43 L101.82,100.34 L102.42,100.24 L103.02,100.14 L103.62,100.05 L104.21,99.95 L104.81,99.84 L105.41,99.74 L106.01,99.64 L106.61,99.53 L107.20,99.42 L107.80,99.31 L108.40,99.21 L109.00,99.09 L109.60,98.98 L110.19,98.87 L110.79,98.76 L111.39,98.64 L111.99,98.53 L112.59,98.41 L113.18,98.30 L113.78,98.18 L114.38,98.06 L114.98,97.95 L115.58,97.83 L116.17,97.71 L116.77,97.59 L117.37,97.48 L117.97,97.36 L118.57,97.24 L119.16,97.12 L119.76,97.01 L120.36,96.89 L120.96,96.77 L121.56,96.66 L122.15,96.54 L122.75,96.43 L123.35,96.32 L123.95,96.21 L124.55,96.09 L125.14,95.98 L125.74,95.88 L126.34,95.77 L126.94,95.66 L127.54,95.56 L128.13,95.46 L128.73,95.36 L129.33,95.26 L129.93,95.16 L130.53,95.07 L131.12,94.98 L131.72,94.89 L132.32,94.80 L132.92,94.72 L133.52,94.63 L134.11,94.55 L134.71,94.48 L135.31,94.41 L135.91,94.34 L136.51,94.27 L137.10,94.21 L137.70,94.15 L138.30,94.09 L138.90,94.04 L139.50,93.99 L140.09,93.95 L140.69,93.91 L141.29,93.87 L141.89,93.84 L142.49,93.81 L143.08,93.79 L143.68,93.77 L144.28,93.76 L144.88,93.75 L145.48,93.75 L146.07,93.75 L146.67,93.76 L147.27,93.78 L147.87,93.80 L148.47,93.83 L149.06,93.86 L149.66,93.90 L150.26,93.94 L150.86,94.00 L151.46,94.05 L152.05,94.12 L152.65,94.19 L153.25,94.27 L153.85,94.36 L154.45,94.45 L155.04,94.55 L155.64,94.66 L156.24,94.78 L156.84,94.91 L157.44,95.04 L158.03,95.18 L158.63,95.33 L159.23,95.49 L159.83,95.66 L160.43,95.84 L161.02,96.02 L161.62,96.22 L162.22,96.42 L162.82,96.63 L163.42,96.85 L164.01,97.09 L164.61,97.33 L165.21,97.58 L165.81,97.84 L166.41,98.10 L167.00,98.38 L167.60,98.67 L168.20,98.97 L168.80,99.28 L169.40,99.59 L169.99,99.92 L170.59,100.25 L171.19,100.59 L171.79,100.95 L172.39,101.31 L172.98,101.67 L173.58,102.05 L174.18,102.43 L174.78,102.82 L175.38,103.21 L175.97,103.61 L176.57,104.01 L177.17,104.42 L177.77,104.83 L178.37,105.24 L178.96,105.65 L179.56,106.05 L180.16,106.46 L180.76,106.86 L181.36,107.26 L181.95,107.65 L182.55,108.03 L183.15,108.39 L183.75,108.75 L184.35,109.09 L184.94,109.41 L185.54,109.71 L186.14,109.98 L186.74,110.24 L187.34,110.46 L187.93,110.66 L188.53,110.82 L189.13,110.95 L189.73,111.05 L190.33,111.11 L190.92,111.13 L191.52,111.11 L192.12,111.05 L192.72,110.95 L193.32,110.81 L193.91,110.62 L194.51,110.40 L195.11,110.14 L195.71,109.84 L196.31,109.51 L196.90,109.14 L197.50,108.74 L198.10,108.31 L198.70,107.85 L199.30,107.37 L199.89,106.87 L200.49,106.34 L201.09,105.80 L201.69,105.24 L202.29,104.67 L202.88,104.09 L203.48,103.50 L204.08,102.91 L204.68,102.31 L205.28,101.72 L205.87,101.12 L206.47,100.53 L207.07,99.94 L207.67,99.36 L208.27,98.79 L208.86,98.23 L209.46,97.67 L210.06,97.13 L210.66,96.60 L211.26,96.09 L211.85,95.59 L212.45,95.10 L213.05,94.63 L213.65,94.18 L214.25,93.75 L214.84,93.34 L215.44,92.95 L216.04,92.57 L216.64,92.22 L217.24,91.89 L217.83,91.58 L218.43,91.29 L219.03,91.03 L219.63,90.79 L220.23,90.57 L220.82,90.38 L221.42,90.22 L222.02,90.08 L222.62,89.96 L223.22,89.87 L223.81,89.81 L224.41,89.78 L225.01,89.78 L225.61,89.80 L226.21,89.86 L226.80,89.94 L227.40,90.06 L228.00,90.21 L228.60,90.39 L229.20,90.60 L229.79,90.85 L230.39,91.14 L230.99,91.46 L231.59,91.82 L232.19,92.22 L232.78,92.66 L233.38,93.14 L233.98,93.66 L234.58,94.23 L235.18,94.84 L235.77,95.50 L236.37,96.21 L236.97,96.98 L237.57,97.80 L238.17,98.67 L238.76,99.61 L239.36,100.61 L239.96,101.68 L240.56,102.82 L241.16,104.03 L241.75,105.33 L242.35,106.71 L242.95,108.18 L243.55,109.75 L244.15,111.43 L244.74,113.22 L245.34,115.14 L245.94,117.19 L246.54,119.40 L247.14,121.77 L247.73,124.31 L248.33,127.07 L248.93,130.04 L249.53,133.27 L250.13,136.78 L250.72,140.59 L251.32,144.75 L251.92,149.26 L252.52,154.13 L253.12,159.26 L253.71,164.46 L254.31,169.25 L254.91,172.81 L255.51,174.21 L256.11,172.94 L256.70,169.44 L257.30,164.66 L257.90,159.42 L258.50,154.22 L259.10,149.28 L259.69,144.69 L260.29,140.47 L260.89,136.58 L261.49,133.02 L262.09,129.74 L262.68,126.71 L263.28,123.92 L263.88,121.34 L264.48,118.94 L265.08,116.72 L265.67,114.65 L266.27,112.73 L266.87,110.94 L267.47,109.27 L268.07,107.72 L268.66,106.28 L269.26,104.94 L269.86,103.69 L270.46,102.54 L271.06,101.47 L271.65,100.49 L272.25,99.58 L272.85,98.76 L273.45,98.00 L274.05,97.32 L274.64,96.71 L275.24,96.16 L275.84,95.68 L276.44,95.27 L277.04,94.92 L277.63,94.64 L278.23,94.41 L278.83,94.25 L279.43,94.15 L280.03,94.10 L280.62,94.12 L281.22,94.19 L281.82,94.33 L282.42,94.52 L283.02,94.77 L283.61,95.07 L284.21,95.43 L284.81,95.85 L285.41,96.32 L286.01,96.84 L286.60,97.41 L287.20,98.02 L287.80,98.69 L288.40,99.39 L289.00,100.12 L289.59,100.89 L290.19,101.68 L290.79,102.47 L291.39,103.27 L291.99,104.06 L292.58,104.82 L293.18,105.53 L293.78,106.18 L294.38,106.75 L294.98,107.21 L295.57,107.55 L296.17,107.75 L296.77,107.78 L297.37,107.65 L297.97,107.34 L298.56,106.85 L299.16,106.20 L299.76,105.38 L300.36,104.41 L300.96,103.32 L301.55,102.12 L302.15,100.84 L302.75,99.49 L303.35,98.09 L303.95,96.67 L304.54,95.23 L305.14,93.78 L305.74,92.35 L306.34,90.94 L306.94,89.56 L307.53,88.21 L308.13,86.90 L308.73,85.64 L309.33,84.43 L309.93,83.26 L310.52,82.15 L311.12,81.09 L311.72,80.08 L312.32,79.14 L312.92,78.25 L313.51,77.42 L314.11,76.65 L314.71,75.93 L315.31,75.28 L315.91,74.69 L316.50,74.16 L317.10,73.69 L317.70,73.29 L318.30,72.95 L318.90,72.67 L319.49,72.46 L320.09,72.32 L320.69,72.25 L321.29,72.24 L321.89,72.31 L322.48,72.46 L323.08,72.68 L323.68,72.99 L324.28,73.38 L324.88,73.85 L325.47,74.42 L326.07,75.09 L326.67,75.86 L327.27,76.74 L327.87,77.74 L328.46,78.87 L329.06,80.13 L329.66,81.54 L330.26,83.12 L330.86,84.88 L331.45,86.85 L332.05,89.05 L332.65,91.50 L333.25,94.26 L333.85,97.37 L334.44,100.89 L335.04,104.91 L335.64,109.54 L336.24,114.94 L336.84,121.30 L337.43,128.91 L338.03,138.05 L338.63,148.68 L339.23,158.69 L339.83,160.90 L340.42,152.23 L341.02,140.20 L341.62,129.16 L342.22,119.72 L342.82,111.66 L343.41,104.69 L344.01,98.57 L344.61,93.12 L345.21,88.22 L345.81,83.76 L346.40,79.68 L347.00,75.91 L347.60,72.42 L348.20,69.17 L348.80,66.13 L349.39,63.27 L349.99,60.58 L350.59,58.04 L351.19,55.64 L351.79,53.36 L352.38,51.20 L352.98,49.14 L353.58,47.18 L354.18,45.31 L354.78,43.53 L355.37,41.82 L355.97,40.20 L356.57,38.64 L357.17,37.15 L357.77,35.72 L358.36,34.36 L358.96,33.05 L359.56,31.80 L360.16,30.60 L360.76,29.45 L361.35,28.35 L361.95,27.30 L362.55,26.30 L363.15,25.34 L363.75,24.42 L364.34,23.55 L364.94,22.72 L365.54,21.92 L366.14,21.17 L366.74,20.45 L367.33,19.77 L367.93,19.12 L368.53,18.51 L369.13,17.94 L369.73,17.40 L370.32,16.89 L370.92,16.42 L371.52,15.97 L372.12,15.56 L372.72,15.19 L373.31,14.84 L373.91,14.52 L374.51,14.24 L375.11,13.98 L375.71,13.76 L376.30,13.56 L376.90,13.39 L377.50,13.26 L378.10,13.15 L378.70,13.07 L379.29,13.02 L379.89,13.00 L380.49,13.01 L381.09,13.04 L381.69,13.11 L382.28,13.20 L382.88,13.32 L383.48,13.47 L384.08,13.65 L384.68,13.86 L385.27,14.10 L385.87,14.37 L386.47,14.66 L387.07,14.99 L387.67,15.34 L388.26,15.72 L388.86,16.14 L389.46,16.58 L390.06,17.06 L390.66,17.56 L391.25,18.10 L391.85,18.66 L392.45,19.26 L393.05,19.90 L393.65,20.56 L394.24,21.26 L394.84,21.99 L395.44,22.76 L396.04,23.56 L396.64,24.40 L397.23,25.28 L397.83,26.19 L398.43,27.14 L399.03,28.14 L399.63,29.17 L400.22,30.24 L400.82,31.36 L401.42,32.52 L402.02,33.73 L402.62,34.98 L403.21,36.29 L403.81,37.64 L404.41,39.05 L405.01,40.51 L405.61,42.04 L406.20,43.62 L406.80,45.26 L407.40,46.98 L408.00,48.76 L408.60,50.62 L409.19,52.56 L409.79,54.58 L410.39,56.69 L410.99,58.90 L411.59,61.22 L412.18,63.64 L412.78,66.19 L413.38,68.88 L413.98,71.71 L414.58,74.71 L415.17,77.89 L415.77,81.28 L416.37,84.90 L416.97,88.78 L417.57,92.97 L418.16,97.51 L418.76,102.48 L419.36,107.95 L419.96,114.03 L420.56,120.84 L421.15,128.53 L421.75,137.20 L422.35,146.72 L422.95,155.97 L423.55,161.68 L424.14,160.30 L424.74,153.50 L425.34,145.31 L425.94,137.67 L426.54,131.00 L427.13,125.27 L427.73,120.34 L428.33,116.08 L428.93,112.35 L429.53,109.09 L430.12,106.21 L430.72,103.66 L431.32,101.40 L431.92,99.39 L432.52,97.59 L433.11,96.00 L433.71,94.58 L434.31,93.31 L434.91,92.20 L435.51,91.22 L436.10,90.36 L436.70,89.61 L437.30,88.97 L437.90,88.44 L438.50,87.99 L439.09,87.64 L439.69,87.37 L440.29,87.18 L440.89,87.08 L441.49,87.04 L442.08,87.08 L442.68,87.18 L443.28,87.36 L443.88,87.60 L444.48,87.90 L445.07,88.27 L445.67,88.69 L446.27,89.18 L446.87,89.73 L447.47,90.34 L448.06,91.00 L448.66,91.73 L449.26,92.51 L449.86,93.35 L450.46,94.24 L451.05,95.20 L451.65,96.21 L452.25,97.28 L452.85,98.41 L453.45,99.60 L454.04,100.84 L454.64,102.15 L455.24,103.52 L455.84,104.96 L456.44,106.45 L457.03,108.02 L457.63,109.64 L458.23,111.34 L458.83,113.11 L459.43,114.95 L460.02,116.87 L460.62,118.87 L461.22,120.94 L461.82,123.10 L462.42,125.35 L463.01,127.70 L463.61,130.13 L464.21,132.67 L464.81,135.32 L465.41,138.09 L466.00,140.97 L466.60,143.99 L467.20,147.15 L467.80,150.47 L468.40,153.95 L468.99,157.61 L469.59,161.48 L470.19,165.58 L470.79,169.94 L471.39,174.60 L471.98,179.60 L472.58,185.02 L473.18,190.94 L473.78,197.48 L474.38,204.82 L474.97,213.24 L475.57,223.20 L476.17,235.53 L476.77,252.04 L477.37,276.87 L477.96,276.87 L478.56,276.87 L479.16,264.96 L479.76,247.83 L480.36,236.24 L480.95,227.51 L481.55,220.53 L482.15,214.68 L482.75,209.64 L483.35,205.17 L483.94,201.13 L484.54,197.42 L485.14,193.95 L485.74,190.68 L486.34,187.57 L486.93,184.59 L487.53,181.71 L488.13,178.93 L488.73,176.23 L489.33,173.61 L489.92,171.06 L490.52,168.58 L491.12,166.17 L491.72,163.83 L492.32,161.55 L492.91,159.34 L493.51,157.20 L494.11,155.11 L494.71,153.10 L495.31,151.15 L495.90,149.26 L496.50,147.43 L497.10,145.67 L497.70,143.97 L498.30,142.33 L498.89,140.75 L499.49,139.22 L500.09,137.76 L500.69,136.34 L501.29,134.99 L501.88,133.69 L502.48,132.44 L503.08,131.24 L503.68,130.09 L504.28,128.99 L504.87,127.94 L505.47,126.93 L506.07,125.98 L506.67,125.06 L507.27,124.19 L507.86,123.37 L508.46,122.58 L509.06,121.84 L509.66,121.14 L510.26,120.48 L510.85,119.85 L511.45,119.27 L512.05,118.72 L512.65,118.21 L513.25,117.74 L513.84,117.30 L514.44,116.89 L515.04,116.52 L515.64,116.19 L516.24,115.89 L516.83,115.62 L517.43,115.38 L518.03,115.18 L518.63,115.00 L519.23,114.86 L519.82,114.75 L520.42,114.67 L521.02,114.62 L521.62,114.60 L522.22,114.61 L522.81,114.65 L523.41,114.72 L524.01,114.81 L524.61,114.94 L525.21,115.09 L525.80,115.28 L526.40,115.49 L527.00,115.72 L527.60,115.99 L528.20,116.29 L528.79,116.61 L529.39,116.96 L529.99,117.34 L530.59,117.74 L531.19,118.17 L531.78,118.63 L532.38,119.12 L532.98,119.64 L533.58,120.18 L534.18,120.75 L534.77,121.35 L535.37,121.98 L535.97,122.64 L536.57,123.32 L537.17,124.03 L537.76,124.77 L538.36,125.54 L538.96,126.35 L539.56,127.18 L540.16,128.04 L540.75,128.93 L541.35,129.85 L541.95,130.80 L542.55,131.79 L543.15,132.80 L543.74,133.85 L544.34,134.94 L544.94,136.06 L545.54,137.21 L546.14,138.40 L546.73,139.63 L547.33,140.89 L547.93,142.19 L548.53,143.54 L549.13,144.92 L549.72,146.35 L550.32,147.82 L550.92,149.34 L551.52,150.91 L552.12,152.52 L552.71,154.19 L553.31,155.91 L553.91,157.69 L554.51,159.53 L555.11,161.43 L555.70,163.40 L556.30,165.44 L556.90,167.55 L557.50,169.74 L558.10,172.01 L558.69,174.37 L559.29,176.83 L559.89,179.38 L560.49,182.04 L561.09,184.80 L561.68,187.68 L562.28,190.67 L562.88,193.77 L563.48,196.98 L564.08,200.29 L564.67,203.65 L565.27,207.03 L565.87,210.35 L566.47,213.50 L567.07,216.31 L567.66,218.61 L568.26,220.20 L568.86,220.93 L569.46,220.75 L570.06,219.72 L570.65,217.99 L571.25,215.74 L571.85,213.17 L572.45,210.42 L573.05,207.61 L573.64,204.81 L574.24,202.07 L574.84,199.41 L575.44,196.84 L576.04,194.38 L576.63,192.03 L577.23,189.77 L577.83,187.61 L578.43,185.54 L579.03,183.56 L579.62,181.65 L580.22,179.82 L580.82,178.06 L581.42,176.36 L582.02,174.71 L582.61,173.13 L583.21,171.59 L583.81,170.09 L584.41,168.65 L585.01,167.24 L585.60,165.87 L586.20,164.53 L586.80,163.23 L587.40,161.96 L588.00,160.72 L588.59,159.51 L589.19,158.32 L589.79,157.16 L590.39,156.02 L590.99,154.91 L591.58,153.81 L592.18,152.74 L592.78,151.69 L593.38,150.66 L593.98,149.65 L594.57,148.66 L595.17,147.68 L595.77,146.72 L596.37,145.78 L596.97,144.86 L597.56,143.95 L598.16,143.06 L598.76,142.18 L599.36,141.32 L599.96,140.47 L600.55,139.63 L601.15,138.82 L601.75,138.01 L602.35,137.22 L602.95,136.44 L603.54,135.68 L604.14,134.93 L604.74,134.19 L605.34,133.47 L605.94,132.76 L606.53,132.06 L607.13,131.37 L607.73,130.69 L608.33,130.03 L608.93,129.38 L609.52,128.74 L610.12,128.11 L610.72,127.49 L611.32,126.89 L611.92,126.29 L612.51,125.71 L613.11,125.14 L613.71,124.57 L614.31,124.02 L614.91,123.48 L615.50,122.95 L616.10,122.43 L616.70,121.91 L617.30,121.41 L617.90,120.92 L618.49,120.44 L619.09,119.96 L619.69,119.50 L620.29,119.04 L620.89,118.59 L621.48,118.16 L622.08,117.73 L622.68,117.30 L623.28,116.89 L623.88,116.49 L624.47,116.09 L625.07,115.70 L625.67,115.32 L626.27,114.95 L626.87,114.59 L627.46,114.23 L628.06,113.88 L628.66,113.53 L629.26,113.20 L629.86,112.87 L630.45,112.55 L631.05,112.23 L631.65,111.93 L632.25,111.63 L632.85,111.33 L633.44,111.04 L634.04,110.76 L634.64,110.49 L635.24,110.22 L635.84,109.95 L636.43,109.69 L637.03,109.44 L637.63,109.20 L638.23,108.96 L638.83,108.72 L639.42,108.49 L640.02,108.27 L640.62,108.05 L641.22,107.84 L641.82,107.63 L642.41,107.43 L643.01,107.23 L643.61,107.04 L644.21,106.85 L644.81,106.66 L645.40,106.49 L646.00,106.31 L646.60,106.14 L647.20,105.98 L647.80,105.82 L648.39,105.66 L648.99,105.51 L649.59,105.36 L650.19,105.22 L650.79,105.08 L651.38,104.94 L651.98,104.81 L652.58,104.68 L653.18,104.56 L653.78,104.44 L654.37,104.32 L654.97,104.21 L655.57,104.10 L656.17,104.00 L656.77,103.90 L657.36,103.80 L657.96,103.70 L658.56,103.61 L659.16,103.52 L659.76,103.44 L660.35,103.36 L660.95,103.28 L661.55,103.21 L662.15,103.13 L662.75,103.07 L663.34,103.00 L663.94,102.94 L664.54,102.88 L665.14,102.82 L665.74,102.77 L666.33,102.72 L666.93,102.68 L667.53,102.63 L668.13,102.59 L668.73,102.55 L669.32,102.52 L669.92,102.48 L670.52,102.46 L671.12,102.43 L671.72,102.40 L672.31,102.38 L672.91,102.37 L673.51,102.35 L674.11,102.34 L674.71,102.33 L675.30,102.32 L675.90,102.32 L676.50,102.32" stroke="#1c1cd8" stroke-width="1.1" fill="none" stroke-linejoin="round"/>
<g stroke-width="1.1"><path d="M74.70,98.52l7.6,7.6M74.70,106.12l7.6,-7.6" stroke="#1c1cd8" fill="none"/><path d="M98.62,96.44l7.6,7.6M98.62,104.04l7.6,-7.6" stroke="#1c1cd8" fill="none"/><path d="M122.54,91.97l7.6,7.6M122.54,99.57l7.6,-7.6" stroke="#1c1cd8" fill="none"/><path d="M146.46,90.14l7.6,7.6M146.46,97.74l7.6,-7.6" stroke="#1c1cd8" fill="none"/><path d="M170.38,98.63l7.6,7.6M170.38,106.23l7.6,-7.6" stroke="#1c1cd8" fill="none"/><path d="M194.30,104.51l7.6,7.6M194.30,112.11l7.6,-7.6" stroke="#1c1cd8" fill="none"/><path d="M218.22,86.28l7.6,7.6M218.22,93.88l7.6,-7.6" stroke="#1c1cd8" fill="none"/><path d="M242.14,113.39l7.6,7.6M242.14,120.99l7.6,-7.6" stroke="#1c1cd8" fill="none"/><path d="M266.06,99.89l7.6,7.6M266.06,107.49l7.6,-7.6" stroke="#1c1cd8" fill="none"/><path d="M289.98,102.38l7.6,7.6M289.98,109.98l7.6,-7.6" stroke="#1c1cd8" fill="none"/><path d="M313.90,69.49l7.6,7.6M313.90,77.09l7.6,-7.6" stroke="#1c1cd8" fill="none"/><path d="M337.82,125.36l7.6,7.6M337.82,132.96l7.6,-7.6" stroke="#1c1cd8" fill="none"/><path d="M361.74,18.12l7.6,7.6M361.74,25.72l7.6,-7.6" stroke="#1c1cd8" fill="none"/><path d="M385.66,12.78l7.6,7.6M385.66,20.38l7.6,-7.6" stroke="#1c1cd8" fill="none"/><path d="M409.58,65.08l7.6,7.6M409.58,72.68l7.6,-7.6" stroke="#1c1cd8" fill="none"/><path d="M433.50,85.17l7.6,7.6M433.50,92.77l7.6,-7.6" stroke="#1c1cd8" fill="none"/><path d="M457.42,117.14l7.6,7.6M457.42,124.74l7.6,-7.6" stroke="#1c1cd8" fill="none"/><path d="M481.34,190.15l7.6,7.6M481.34,197.75l7.6,-7.6" stroke="#1c1cd8" fill="none"/><path d="M505.26,118.04l7.6,7.6M505.26,125.64l7.6,-7.6" stroke="#1c1cd8" fill="none"/><path d="M529.18,115.84l7.6,7.6M529.18,123.44l7.6,-7.6" stroke="#1c1cd8" fill="none"/><path d="M553.10,163.75l7.6,7.6M553.10,171.35l7.6,-7.6" stroke="#1c1cd8" fill="none"/><path d="M577.02,174.26l7.6,7.6M577.02,181.86l7.6,-7.6" stroke="#1c1cd8" fill="none"/><path d="M600.94,130.39l7.6,7.6M600.94,137.99l7.6,-7.6" stroke="#1c1cd8" fill="none"/><path d="M624.86,109.73l7.6,7.6M624.86,117.33l7.6,-7.6" stroke="#1c1cd8" fill="none"/><path d="M648.78,100.88l7.6,7.6M648.78,108.48l7.6,-7.6" stroke="#1c1cd8" fill="none"/><path d="M672.70,98.52l7.6,7.6M672.70,106.12l7.6,-7.6" stroke="#1c1cd8" fill="none"/></g>
<path clip-path="url(#c)" d="M78.50,102.32 L79.10,102.31 L79.70,102.31 L80.29,102.30 L80.89,102.29 L81.49,102.28 L82.09,102.27 L82.69,102.25 L83.28,102.23 L83.88,102.20 L84.48,102.18 L85.08,102.15 L85.68,102.12 L86.27,102.08 L86.87,102.05 L87.47,102.01 L88.07,101.96 L88.67,101.92 L89.26,101.87 L89.86,101.82 L90.46,101.77 L91.06,101.71 L91.66,101.66 L92.25,101.60 L92.85,101.53 L93.45,101.47 L94.05,101.40 L94.65,101.33 L95.24,101.26 L95.84,101.19 L96.44,101.11 L97.04,101.03 L97.64,100.95 L98.23,100.87 L98.83,100.79 L99.43,100.70 L100.03,100.61 L100.63,100.52 L101.22,100.43 L101.82,100.34 L102.42,100.24 L103.02,100.14 L103.62,100.05 L104.21,99.95 L104.81,99.84 L105.41,99.74 L106.01,99.64 L106.61,99.53 L107.20,99.42 L107.80,99.31 L108.40,99.21 L109.00,99.09 L109.60,98.98 L110.19,98.87 L110.79,98.76 L111.39,98.64 L111.99,98.53 L112.59,98.41 L113.18,98.30 L113.78,98.18 L114.38,98.06 L114.98,97.95 L115.58,97.83 L116.17,97.71 L116.77,97.59 L117.37,97.48 L117.97,97.36 L118.57,97.24 L119.16,97.12 L119.76,97.01 L120.36,96.89 L120.96,96.77 L121.56,96.66 L122.15,96.54 L122.75,96.43 L123.35,96.32 L123.95,96.21 L124.55,96.09 L125.14,95.98 L125.74,95.88 L126.34,95.77 L126.94,95.66 L127.54,95.56 L128.13,95.46 L128.73,95.36 L129.33,95.26 L129.93,95.16 L130.53,95.07 L131.12,94.98 L131.72,94.89 L132.32,94.80 L132.92,94.72 L133.52,94.63 L134.11,94.55 L134.71,94.48 L135.31,94.41 L135.91,94.34 L136.51,94.27 L137.10,94.21 L137.70,94.15 L138.30,94.09 L138.90,94.04 L139.50,93.99 L140.09,93.95 L140.69,93.91 L141.29,93.87 L141.89,93.84 L142.49,93.81 L143.08,93.79 L143.68,93.77 L144.28,93.76 L144.88,93.75 L145.48,93.75 L146.07,93.75 L146.67,93.76 L147.27,93.78 L147.87,93.80 L148.47,93.83 L149.06,93.86 L149.66,93.90 L150.26,93.94 L150.86,94.00 L151.46,94.05 L152.05,94.12 L152.65,94.19 L153.25,94.27 L153.85,94.36 L154.45,94.45 L155.04,94.55 L155.64,94.66 L156.24,94.78 L156.84,94.91 L157.44,95.04 L158.03,95.18 L158.63,95.33 L159.23,95.49 L159.83,95.66 L160.43,95.84 L161.02,96.02 L161.62,96.22 L162.22,96.42 L162.82,96.63 L163.42,96.85 L164.01,97.09 L164.61,97.33 L165.21,97.58 L165.81,97.84 L166.41,98.10 L167.00,98.38 L167.60,98.67 L168.20,98.97 L168.80,99.28 L169.40,99.59 L169.99,99.92 L170.59,100.25 L171.19,100.59 L171.79,100.95 L172.39,101.31 L172.98,101.67 L173.58,102.05 L174.18,102.43 L174.78,102.82 L175.38,103.21 L175.97,103.61 L176.57,104.01 L177.17,104.42 L177.77,104.83 L178.37,105.24 L178.96,105.65 L179.56,106.05 L180.16,106.46 L180.76,106.86 L181.36,107.26 L181.95,107.65 L182.55,108.03 L183.15,108.39 L183.75,108.75 L184.35,109.09 L184.94,109.41 L185.54,109.71 L186.14,109.98 L186.74,110.24 L187.34,110.46 L187.93,110.66 L188.53,110.82 L189.13,110.95 L189.73,111.05 L190.33,111.11 L190.92,111.13 L191.52,111.11 L192.12,111.05 L192.72,110.95 L193.32,110.81 L193.91,110.62 L194.51,110.40 L195.11,110.14 L195.71,109.84 L196.31,109.51 L196.90,109.14 L197.50,108.74 L198.10,108.31 L198.70,107.85 L199.30,107.37 L199.89,106.87 L200.49,106.34 L201.09,105.80 L201.69,105.24 L202.29,104.67 L202.88,104.09 L203.48,103.50 L204.08,102.91 L204.68,102.31 L205.28,101.72 L205.87,101.12 L206.47,100.53 L207.07,99.94 L207.67,99.36 L208.27,98.79 L208.86,98.23 L209.46,97.67 L210.06,97.13 L210.66,96.60 L211.26,96.09 L211.85,95.59 L212.45,95.10 L213.05,94.63 L213.65,94.18 L214.25,93.75 L214.84,93.34 L215.44,92.95 L216.04,92.57 L216.64,92.22 L217.24,91.89 L217.83,91.58 L218.43,91.29 L219.03,91.03 L219.63,90.79 L220.23,90.57 L220.82,90.38 L221.42,90.22 L222.02,90.08 L222.62,89.96 L223.22,89.87 L223.81,89.81 L224.41,89.78 L225.01,89.78 L225.61,89.80 L226.21,89.86 L226.80,89.94 L227.40,90.06 L228.00,90.21 L228.60,90.39 L229.20,90.60 L229.79,90.85 L230.39,91.14 L230.99,91.46 L231.59,91.82 L232.19,92.22 L232.78,92.66 L233.38,93.14 L233.98,93.66 L234.58,94.23 L235.18,94.84 L235.77,95.50 L236.37,96.21 L236.97,96.98 L237.57,97.80 L238.17,98.67 L238.76,99.61 L239.36,100.61 L239.96,101.68 L240.56,102.82 L241.16,104.03 L241.75,105.33 L242.35,106.71 L242.95,108.18 L243.55,109.75 L244.15,111.43 L244.74,113.22 L245.34,115.14 L245.94,117.19 L246.54,119.40 L247.14,121.77 L247.73,124.31 L248.33,127.07 L248.93,130.04 L249.53,133.27 L250.13,136.78 L250.72,140.59 L251.32,144.75 L251.92,149.26 L252.52,154.13 L253.12,159.26 L253.71,164.46 L254.31,169.25 L254.91,172.81 L255.51,174.21 L256.11,172.94 L256.70,169.44 L257.30,164.66 L257.90,159.42 L258.50,154.22 L259.10,149.28 L259.69,144.69 L260.29,140.47 L260.89,136.58 L261.49,133.02 L262.09,129.74 L262.68,126.71 L263.28,123.92 L263.88,121.34 L264.48,118.94 L265.08,116.72 L265.67,114.65 L266.27,112.73 L266.87,110.94 L267.47,109.27 L268.07,107.72 L268.66,106.28 L269.26,104.94 L269.86,103.69 L270.46,102.54 L271.06,101.47 L271.65,100.49 L272.25,99.58 L272.85,98.76 L273.45,98.00 L274.05,97.32 L274.64,96.71 L275.24,96.16 L275.84,95.68 L276.44,95.27 L277.04,94.92 L277.63,94.64 L278.23,94.41 L278.83,94.25 L279.43,94.15 L280.03,94.10 L280.62,94.12 L281.22,94.19 L281.82,94.33 L282.42,94.52 L283.02,94.77 L283.61,95.07 L284.21,95.43 L284.81,95.85 L285.41,96.32 L286.01,96.84 L286.60,97.41 L287.20,98.02 L287.80,98.69 L288.40,99.39 L289.00,100.12 L289.59,100.89 L290.19,101.68 L290.79,102.47 L291.39,103.27 L291.99,104.06 L292.58,104.82 L293.18,105.53 L293.78,106.18 L294.38,106.75 L294.98,107.21 L295.57,107.55 L296.17,107.75 L296.77,107.78 L297.37,107.65 L297.97,107.34 L298.56,106.85 L299.16,106.20 L299.76,105.38 L300.36,104.41 L300.96,103.32 L301.55,102.12 L302.15,100.84 L302.75,99.49 L303.35,98.09 L303.95,96.67 L304.54,95.23 L305.14,93.78 L305.74,92.35 L306.34,90.94 L306.94,89.56 L307.53,88.21 L308.13,86.90 L308.73,85.64 L309.33,84.43 L309.93,83.26 L310.52,82.15 L311.12,81.09 L311.72,80.08 L312.32,79.14 L312.92,78.25 L313.51,77.42 L314.11,76.65 L314.71,75.93 L315.31,75.28 L315.91,74.69 L316.50,74.16 L317.10,73.69 L317.70,73.29 L318.30,72.95 L318.90,72.67 L319.49,72.46 L320.09,72.32 L320.69,72.25 L321.29,72.24 L321.89,72.31 L322.48,72.46 L323.08,72.68 L323.68,72.99 L324.28,73.38 L324.88,73.85 L325.47,74.42 L326.07,75.09 L326.67,75.86 L327.27,76.74 L327.87,77.74 L328.46,78.87 L329.06,80.13 L329.66,81.54 L330.26,83.12 L330.86,84.88 L331.45,86.85 L332.05,89.05 L332.65,91.50 L333.25,94.26 L333.85,97.37 L334.44,100.89 L335.04,104.91 L335.64,109.54 L336.24,114.94 L336.84,121.30 L337.43,128.91 L338.03,138.05 L338.63,148.68 L339.23,158.69 L339.83,160.90 L340.42,152.23 L341.02,140.20 L341.62,129.16 L342.22,119.72 L342.82,111.66 L343.41,104.69 L344.01,98.57 L344.61,93.12 L345.21,88.22 L345.81,83.76 L346.40,79.68 L347.00,75.91 L347.60,72.42 L348.20,69.17 L348.80,66.13 L349.39,63.27 L349.99,60.58 L350.59,58.04 L351.19,55.64 L351.79,53.36 L352.38,51.20 L352.98,49.14 L353.58,47.18 L354.18,45.31 L354.78,43.53 L355.37,41.82 L355.97,40.20 L356.57,38.64 L357.17,37.15 L357.77,35.72 L358.36,34.36 L358.96,33.05 L359.56,31.80 L360.16,30.60 L360.76,29.45 L361.35,28.35 L361.95,27.30 L362.55,26.30 L363.15,25.34 L363.75,24.42 L364.34,23.55 L364.94,22.72 L365.54,21.92 L366.14,21.17 L366.74,20.45 L367.33,19.77 L367.93,19.12 L368.53,18.51 L369.13,17.94 L369.73,17.40 L370.32,16.89 L370.92,16.42 L371.52,15.97 L372.12,15.56 L372.72,15.19 L373.31,14.84 L373.91,14.52 L374.51,14.24 L375.11,13.98 L375.71,13.76 L376.30,13.56 L376.90,13.39 L377.50,13.26 L378.10,13.15 L378.70,13.07 L379.29,13.02 L379.89,13.00 L380.49,13.01 L381.09,13.04 L381.69,13.11 L382.28,13.20 L382.88,13.32 L383.48,13.47 L384.08,13.65 L384.68,13.86 L385.27,14.10 L385.87,14.37 L386.47,14.66 L387.07,14.99 L387.67,15.34 L388.26,15.72 L388.86,16.14 L389.46,16.58 L390.06,17.06 L390.66,17.56 L391.25,18.10 L391.85,18.66 L392.45,19.26 L393.05,19.90 L393.65,20.56 L394.24,21.26 L394.84,21.99 L395.44,22.76 L396.04,23.56 L396.64,24.40 L397.23,25.28 L397.83,26.19 L398.43,27.14 L399.03,28.14 L399.63,29.17 L400.22,30.24 L400.82,31.36 L401.42,32.52 L402.02,33.73 L402.62,34.98 L403.21,36.29 L403.81,37.64 L404.41,39.05 L405.01,40.51 L405.61,42.04 L406.20,43.62 L406.80,45.26 L407.40,46.98 L408.00,48.76 L408.60,50.62 L409.19,52.56 L409.79,54.58 L410.39,56.69 L410.99,58.90 L411.59,61.22 L412.18,63.64 L412.78,66.19 L413.38,68.88 L413.98,71.71 L414.58,74.71 L415.17,77.89 L415.77,81.28 L416.37,84.90 L416.97,88.78 L417.57,92.97 L418.16,97.51 L418.76,102.48 L419.36,107.95 L419.96,114.03 L420.56,120.84 L421.15,128.53 L421.75,137.20 L422.35,146.72 L422.95,155.97 L423.55,161.68 L424.14,160.30 L424.74,153.50 L425.34,145.31 L425.94,137.67 L426.54,131.00 L427.13,125.27 L427.73,120.34 L428.33,116.08 L428.93,112.35 L429.53,109.09 L430.12,106.21 L430.72,103.66 L431.32,101.40 L431.92,99.39 L432.52,97.59 L433.11,96.00 L433.71,94.58 L434.31,93.31 L434.91,92.20 L435.51,91.22 L436.10,90.36 L436.70,89.61 L437.30,88.97 L437.90,88.44 L438.50,87.99 L439.09,87.64 L439.69,87.37 L440.29,87.18 L440.89,87.08 L441.49,87.04 L442.08,87.08 L442.68,87.18 L443.28,87.36 L443.88,87.60 L444.48,87.90 L445.07,88.27 L445.67,88.69 L446.27,89.18 L446.87,89.73 L447.47,90.34 L448.06,91.00 L448.66,91.73 L449.26,92.51 L449.86,93.35 L450.46,94.24 L451.05,95.20 L451.65,96.21 L452.25,97.28 L452.85,98.41 L453.45,99.60 L454.04,100.84 L454.64,102.15 L455.24,103.52 L455.84,104.96 L456.44,106.45 L457.03,108.02 L457.63,109.64 L458.23,111.34 L458.83,113.11 L459.43,114.95 L460.02,116.87 L460.62,118.87 L461.22,120.94 L461.82,123.10 L462.42,125.35 L463.01,127.70 L463.61,130.13 L464.21,132.67 L464.81,135.32 L465.41,138.09 L466.00,140.97 L466.60,143.99 L467.20,147.15 L467.80,150.47 L468.40,153.95 L468.99,157.61 L469.59,161.48 L470.19,165.58 L470.79,169.94 L471.39,174.60 L471.98,179.60 L472.58,185.02 L473.18,190.94 L473.78,197.48 L474.38,204.82 L474.97,213.24 L475.57,223.20 L476.17,235.53 L476.77,252.04 L477.37,276.87 L477.96,276.87 L478.56,276.87 L479.16,264.96 L479.76,247.83 L480.36,236.24 L480.95,227.51 L481.55,220.53 L482.15,214.68 L482.75,209.64 L483.35,205.17 L483.94,201.13 L484.54,197.42 L485.14,193.95 L485.74,190.68 L486.34,187.57 L486.93,184.59 L487.53,181.71 L488.13,178.93 L488.73,176.23 L489.33,173.61 L489.92,171.06 L490.52,168.58 L491.12,166.17 L491.72,163.83 L492.32,161.55 L492.91,159.34 L493.51,157.20 L494.11,155.11 L494.71,153.10 L495.31,151.15 L495.90,149.26 L496.50,147.43 L497.10,145.67 L497.70,143.97 L498.30,142.33 L498.89,140.75 L499.49,139.22 L500.09,137.76 L500.69,136.34 L501.29,134.99 L501.88,133.69 L502.48,132.44 L503.08,131.24 L503.68,130.09 L504.28,128.99 L504.87,127.94 L505.47,126.93 L506.07,125.98 L506.67,125.06 L507.27,124.19 L507.86,123.37 L508.46,122.58 L509.06,121.84 L509.66,121.14 L510.26,120.48 L510.85,119.85 L511.45,119.27 L512.05,118.72 L512.65,118.21 L513.25,117.74 L513.84,117.30 L514.44,116.89 L515.04,116.52 L515.64,116.19 L516.24,115.89 L516.83,115.62 L517.43,115.38 L518.03,115.18 L518.63,115.00 L519.23,114.86 L519.82,114.75 L520.42,114.67 L521.02,114.62 L521.62,114.60 L522.22,114.61 L522.81,114.65 L523.41,114.72 L524.01,114.81 L524.61,114.94 L525.21,115.09 L525.80,115.28 L526.40,115.49 L527.00,115.72 L527.60,115.99 L528.20,116.29 L528.79,116.61 L529.39,116.96 L529.99,117.34 L530.59,117.74 L531.19,118.17 L531.78,118.63 L532.38,119.12 L532.98,119.64 L533.58,120.18 L534.18,120.75 L534.77,121.35 L535.37,121.98 L535.97,122.64 L536.57,123.32 L537.17,124.03 L537.76,124.77 L538.36,125.54 L538.96,126.35 L539.56,127.18 L540.16,128.04 L540.75,128.93 L541.35,129.85 L541.95,130.80 L542.55,131.79 L543.15,132.80 L543.74,133.85 L544.34,134.94 L544.94,136.06 L545.54,137.21 L546.14,138.40 L546.73,139.63 L547.33,140.89 L547.93,142.19 L548.53,143.54 L549.13,144.92 L549.72,146.35 L550.32,147.82 L550.92,149.34 L551.52,150.91 L552.12,152.52 L552.71,154.19 L553.31,155.91 L553.91,157.69 L554.51,159.53 L555.11,161.43 L555.70,163.40 L556.30,165.44 L556.90,167.55 L557.50,169.74 L558.10,172.01 L558.69,174.37 L559.29,176.83 L559.89,179.38 L560.49,182.04 L561.09,184.80 L561.68,187.68 L562.28,190.67 L562.88,193.77 L563.48,196.98 L564.08,200.29 L564.67,203.65 L565.27,207.03 L565.87,210.35 L566.47,213.50 L567.07,216.31 L567.66,218.61 L568.26,220.20 L568.86,220.93 L569.46,220.75 L570.06,219.72 L570.65,217.99 L571.25,215.74 L571.85,213.17 L572.45,210.42 L573.05,207.61 L573.64,204.81 L574.24,202.07 L574.84,199.41 L575.44,196.84 L576.04,194.38 L576.63,192.03 L577.23,189.77 L577.83,187.61 L578.43,185.54 L579.03,183.56 L579.62,181.65 L580.22,179.82 L580.82,178.06 L581.42,176.36 L582.02,174.71 L582.61,173.13 L583.21,171.59 L583.81,170.09 L584.41,168.65 L585.01,167.24 L585.60,165.87 L586.20,164.53 L586.80,163.23 L587.40,161.96 L588.00,160.72 L588.59,159.51 L589.19,158.32 L589.79,157.16 L590.39,156.02 L590.99,154.91 L591.58,153.81 L592.18,152.74 L592.78,151.69 L593.38,150.66 L593.98,149.65 L594.57,148.66 L595.17,147.68 L595.77,146.72 L596.37,145.78 L596.97,144.86 L597.56,143.95 L598.16,143.06 L598.76,142.18 L599.36,141.32 L599.96,140.47 L600.55,139.63 L601.15,138.82 L601.75,138.01 L602.35,137.22 L602.95,136.44 L603.54,135.68 L604.14,134.93 L604.74,134.19 L605.34,133.47 L605.94,132.76 L606.53,132.06 L607.13,131.37 L607.73,130.69 L608.33,130.03 L608.93,129.38 L609.52,128.74 L610.12,128.11 L610.72,127.49 L611.32,126.89 L611.92,126.29 L612.51,125.71 L613.11,125.14 L613.71,124.57 L614.31,124.02 L614.91,123.48 L615.50,122.95 L616.10,122.43 L616.70,121.91 L617.30,121.41 L617.90,120.92 L618.49,120.44 L619.09,119.96 L619.69,119.50 L620.29,119.04 L620.89,118.59 L621.48,118.16 L622.08,117.73 L622.68,117.30 L623.28,116.89 L623.88,116.49 L624.47,116.09 L625.07,115.70 L625.67,115.32 L626.27,114.95 L626.87,114.59 L627.46,114.23 L628.06,113.88 L628.66,113.53 L629.26,113.20 L629.86,112.87 L630.45,112.55 L631.05,112.23 L631.65,111.93 L632.25,111.63 L632.85,111.33 L633.44,111.04 L634.04,110.76 L634.64,110.49 L635.24,110.22 L635.84,109.95 L636.43,109.69 L637.03,109.44 L637.63,109.20 L638.23,108.96 L638.83,108.72 L639.42,108.49 L640.02,108.27 L640.62,108.05 L641.22,107.84 L641.82,107.63 L642.41,107.43 L643.01,107.23 L643.61,107.04 L644.21,106.85 L644.81,106.66 L645.40,106.49 L646.00,106.31 L646.60,106.14 L647.20,105.98 L647.80,105.82 L648.39,105.66 L648.99,105.51 L649.59,105.36 L650.19,105.22 L650.79,105.08 L651.38,104.94 L651.98,104.81 L652.58,104.68 L653.18,104.56 L653.78,104.44 L654.37,104.32 L654.97,104.21 L655.57,104.10 L656.17,104.00 L656.77,103.90 L657.36,103.80 L657.96,103.70 L658.56,103.61 L659.16,103.52 L659.76,103.44 L660.35,103.36 L660.95,103.28 L661.55,103.21 L662.15,103.13 L662.75,103.07 L663.34,103.00 L663.94,102.94 L664.54,102.88 L665.14,102.82 L665.74,102.77 L666.33,102.72 L666.93,102.68 L667.53,102.63 L668.13,102.59 L668.73,102.55 L669.32,102.52 L669.92,102.48 L670.52,102.46 L671.12,102.43 L671.72,102.40 L672.31,102.38 L672.91,102.37 L673.51,102.35 L674.11,102.34 L674.71,102.33 L675.30,102.32 L675.90,102.32 L676.50,102.32" stroke="#22cc22" stroke-width="1.1" fill="none" stroke-linejoin="round"/>
<g stroke-width="1.1"><circle cx="78.50" cy="102.32" r="5.5" stroke="#22cc22" fill="none"/><circle cx="102.42" cy="100.24" r="5.5" stroke="#22cc22" fill="none"/><circle cx="126.34" cy="95.77" r="5.5" stroke="#22cc22" fill="none"/><circle cx="150.26" cy="93.94" r="5.5" stroke="#22cc22" fill="none"/><circle cx="174.18" cy="102.43" r="5.5" stroke="#22cc22" fill="none"/><circle cx="198.10" cy="108.31" r="5.5" stroke="#22cc22" fill="none"/><circle cx="222.02" cy="90.08" r="5.5" stroke="#22cc22" fill="none"/><circle cx="245.94" cy="117.19" r="5.5" stroke="#22cc22" fill="none"/><circle cx="269.86" cy="103.69" r="5.5" stroke="#22cc22" fill="none"/><circle cx="293.78" cy="106.18" r="5.5" stroke="#22cc22" fill="none"/><circle cx="317.70" cy="73.29" r="5.5" stroke="#22cc22" fill="none"/><circle cx="341.62" cy="129.16" r="5.5" stroke="#22cc22" fill="none"/><circle cx="365.54" cy="21.92" r="5.5" stroke="#22cc22" fill="none"/><circle cx="389.46" cy="16.58" r="5.5" stroke="#22cc22" fill="none"/><circle cx="413.38" cy="68.88" r="5.5" stroke="#22cc22" fill="none"/><circle cx="437.30" cy="88.97" r="5.5" stroke="#22cc22" fill="none"/><circle cx="461.22" cy="120.94" r="5.5" stroke="#22cc22" fill="none"/><circle cx="485.14" cy="193.95" r="5.5" stroke="#22cc22" fill="none"/><circle cx="509.06" cy="121.84" r="5.5" stroke="#22cc22" fill="none"/><circle cx="532.98" cy="119.64" r="5.5" stroke="#22cc22" fill="none"/><circle cx="556.90" cy="167.55" r="5.5" stroke="#22cc22" fill="none"/><circle cx="580.82" cy="178.06" r="5.5" stroke="#22cc22" fill="none"/><circle cx="604.74" cy="134.19" r="5.5" stroke="#22cc22" fill="none"/><circle cx="628.66" cy="113.53" r="5.5" stroke="#22cc22" fill="none"/><circle cx="652.58" cy="104.68" r="5.5" stroke="#22cc22" fill="none"/><circle cx="676.50" cy="102.32" r="5.5" stroke="#22cc22" fill="none"/></g>
<path clip-path="url(#c)" d="M78.50,125.06 L79.10,125.06 L79.70,125.05 L80.29,125.04 L80.89,125.02 L81.49,125.00 L82.09,124.97 L82.69,124.93 L83.28,124.89 L83.88,124.85 L84.48,124.79 L85.08,124.74 L85.68,124.68 L86.27,124.61 L86.87,124.54 L87.47,124.46 L88.07,124.38 L88.67,124.29 L89.26,124.20 L89.86,124.10 L90.46,124.00 L91.06,123.89 L91.66,123.78 L92.25,123.66 L92.85,123.54 L93.45,123.42 L94.05,123.29 L94.65,123.15 L95.24,123.01 L95.84,122.87 L96.44,122.72 L97.04,122.57 L97.64,122.41 L98.23,122.26 L98.83,122.09 L99.43,121.93 L100.03,121.76 L100.63,121.58 L101.22,121.40 L101.82,121.22 L102.42,121.04 L103.02,120.85 L103.62,120.66 L104.21,120.47 L104.81,120.27 L105.41,120.07 L106.01,119.87 L106.61,119.67 L107.20,119.46 L107.80,119.26 L108.40,119.04 L109.00,118.83 L109.60,118.62 L110.19,118.40 L110.79,118.19 L111.39,117.97 L111.99,117.75 L112.59,117.52 L113.18,117.30 L113.78,117.08 L114.38,116.85 L114.98,116.63 L115.58,116.40 L116.17,116.18 L116.77,115.95 L117.37,115.72 L117.97,115.50 L118.57,115.27 L119.16,115.04 L119.76,114.82 L120.36,114.59 L120.96,114.37 L121.56,114.14 L122.15,113.92 L122.75,113.70 L123.35,113.48 L123.95,113.26 L124.55,113.04 L125.14,112.82 L125.74,112.61 L126.34,112.40 L126.94,112.19 L127.54,111.98 L128.13,111.77 L128.73,111.57 L129.33,111.37 L129.93,111.17 L130.53,110.98 L131.12,110.79 L131.72,110.60 L132.32,110.42 L132.92,110.24 L133.52,110.06 L134.11,109.89 L134.71,109.73 L135.31,109.56 L135.91,109.40 L136.51,109.25 L137.10,109.10 L137.70,108.96 L138.30,108.82 L138.90,108.69 L139.50,108.56 L140.09,108.44 L140.69,108.33 L141.29,108.22 L141.89,108.12 L142.49,108.03 L143.08,107.94 L143.68,107.86 L144.28,107.79 L144.88,107.72 L145.48,107.66 L146.07,107.62 L146.67,107.58 L147.27,107.54 L147.87,107.52 L148.47,107.51 L149.06,107.50 L149.66,107.51 L150.26,107.53 L150.86,107.55 L151.46,107.59 L152.05,107.64 L152.65,107.70 L153.25,107.77 L153.85,107.85 L154.45,107.95 L155.04,108.06 L155.64,108.18 L156.24,108.31 L156.84,108.46 L157.44,108.62 L158.03,108.80 L158.63,108.99 L159.23,109.20 L159.83,109.43 L160.43,109.67 L161.02,109.93 L161.62,110.21 L162.22,110.50 L162.82,110.82 L163.42,111.15 L164.01,111.51 L164.61,111.88 L165.21,112.28 L165.81,112.70 L166.41,113.15 L167.00,113.62 L167.60,114.12 L168.20,114.64 L168.80,115.19 L169.40,115.77 L169.99,116.38 L170.59,117.03 L171.19,117.70 L171.79,118.41 L172.39,119.16 L172.98,119.95 L173.58,120.78 L174.18,121.65 L174.78,122.56 L175.38,123.53 L175.97,124.55 L176.57,125.62 L177.17,126.74 L177.77,127.93 L178.37,129.19 L178.96,130.52 L179.56,131.92 L180.16,133.41 L180.76,134.99 L181.36,136.66 L181.95,138.45 L182.55,140.35 L183.15,142.39 L183.75,144.57 L184.35,146.92 L184.94,149.45 L185.54,152.20 L186.14,155.19 L186.74,158.47 L187.34,162.09 L187.93,166.12 L188.53,170.65 L189.13,175.81 L189.73,181.79 L190.33,188.88 L190.92,197.56 L191.52,208.72 L192.12,224.29 L192.72,250.00 L193.32,337.18 L193.91,260.78 L194.51,229.22 L195.11,211.54 L195.71,199.18 L196.31,189.67 L196.90,181.93 L197.50,175.41 L198.10,169.77 L198.70,164.82 L199.30,160.40 L199.89,156.41 L200.49,152.78 L201.09,149.46 L201.69,146.39 L202.29,143.55 L202.88,140.91 L203.48,138.44 L204.08,136.13 L204.68,133.96 L205.28,131.92 L205.87,129.99 L206.47,128.17 L207.07,126.45 L207.67,124.82 L208.27,123.28 L208.86,121.82 L209.46,120.43 L210.06,119.12 L210.66,117.87 L211.26,116.69 L211.85,115.57 L212.45,114.51 L213.05,113.50 L213.65,112.55 L214.25,111.66 L214.84,110.81 L215.44,110.01 L216.04,109.26 L216.64,108.56 L217.24,107.91 L217.83,107.30 L218.43,106.74 L219.03,106.22 L219.63,105.74 L220.23,105.31 L220.82,104.92 L221.42,104.57 L222.02,104.27 L222.62,104.00 L223.22,103.79 L223.81,103.61 L224.41,103.48 L225.01,103.39 L225.61,103.34 L226.21,103.34 L226.80,103.38 L227.40,103.47 L228.00,103.60 L228.60,103.79 L229.20,104.02 L229.79,104.30 L230.39,104.63 L230.99,105.02 L231.59,105.46 L232.19,105.95 L232.78,106.51 L233.38,107.12 L233.98,107.80 L234.58,108.54 L235.18,109.36 L235.77,110.25 L236.37,111.21 L236.97,112.26 L237.57,113.39 L238.17,114.62 L238.76,115.95 L239.36,117.39 L239.96,118.95 L240.56,120.63 L241.16,122.46 L241.75,124.44 L242.35,126.59 L242.95,128.94 L243.55,131.47 L244.15,134.21 L244.74,137.22 L245.34,140.59 L245.94,144.43 L246.54,148.83 L247.14,153.87 L247.73,159.73 L248.33,166.70 L248.93,175.25 L249.53,186.24 L250.13,201.54 L250.72,226.64 L251.32,305.58 L251.92,240.28 L252.52,207.80 L253.12,189.84 L253.71,177.36 L254.31,167.78 L254.91,160.01 L255.51,153.49 L256.11,147.87 L256.70,142.99 L257.30,138.76 L257.90,135.04 L258.50,131.68 L259.10,128.55 L259.69,125.60 L260.29,122.84 L260.89,120.30 L261.49,117.94 L262.09,115.75 L262.68,113.72 L263.28,111.82 L263.88,110.05 L264.48,108.41 L265.08,106.87 L265.67,105.44 L266.27,104.11 L266.87,102.87 L267.47,101.72 L268.07,100.65 L268.66,99.67 L269.26,98.76 L269.86,97.94 L270.46,97.18 L271.06,96.50 L271.65,95.89 L272.25,95.35 L272.85,94.88 L273.45,94.48 L274.05,94.14 L274.64,93.88 L275.24,93.68 L275.84,93.55 L276.44,93.49 L277.04,93.50 L277.63,93.58 L278.23,93.73 L278.83,93.95 L279.43,94.25 L280.03,94.63 L280.62,95.09 L281.22,95.63 L281.82,96.26 L282.42,96.98 L283.02,97.80 L283.61,98.71 L284.21,99.73 L284.81,100.87 L285.41,102.13 L286.01,103.53 L286.60,105.06 L287.20,106.75 L287.80,108.62 L288.40,110.68 L289.00,112.96 L289.59,115.48 L290.19,118.28 L290.79,121.41 L291.39,124.93 L291.99,128.91 L292.58,133.47 L293.18,138.76 L293.78,145.01 L294.38,152.60 L294.98,162.15 L295.57,174.94 L296.17,194.08 L296.77,232.26 L297.37,255.64 L297.97,200.93 L298.56,178.13 L299.16,163.45 L299.76,152.60 L300.36,143.99 L300.96,136.84 L301.55,130.75 L302.15,125.45 L302.75,120.76 L303.35,116.57 L303.95,112.79 L304.54,109.35 L305.14,106.21 L305.74,103.32 L306.34,100.66 L306.94,98.20 L307.53,95.92 L308.13,93.81 L308.73,91.85 L309.33,90.03 L309.93,88.33 L310.52,86.76 L311.12,85.30 L311.72,83.95 L312.32,82.70 L312.92,81.55 L313.51,80.50 L314.11,79.54 L314.71,78.66 L315.31,77.87 L315.91,77.17 L316.50,76.55 L317.10,76.01 L317.70,75.55 L318.30,75.18 L318.90,74.89 L319.49,74.68 L320.09,74.55 L320.69,74.51 L321.29,74.55 L321.89,74.68 L322.48,74.91 L323.08,75.23 L323.68,75.64 L324.28,76.16 L324.88,76.79 L325.47,77.53 L326.07,78.39 L326.67,79.38 L327.27,80.52 L327.87,81.80 L328.46,83.25 L329.06,84.88 L329.66,86.71 L330.26,88.78 L330.86,91.10 L331.45,93.72 L332.05,96.66 L332.65,100.02 L333.25,103.91 L333.85,108.45 L334.44,113.83 L335.04,120.32 L335.64,128.39 L336.24,138.90 L336.84,153.69 L337.43,178.17 L338.03,254.50 L338.63,191.84 L339.23,158.63 L339.83,140.14 L340.42,127.18 L341.02,117.14 L341.62,108.93 L342.22,101.96 L342.82,95.90 L343.41,90.58 L344.01,85.84 L344.61,81.55 L345.21,77.61 L345.81,73.94 L346.40,70.51 L347.00,67.31 L347.60,64.32 L348.20,61.50 L348.80,58.86 L349.39,56.35 L349.99,53.99 L350.59,51.74 L351.19,49.61 L351.79,47.59 L352.38,45.66 L352.98,43.82 L353.58,42.06 L354.18,40.38 L354.78,38.78 L355.37,37.25 L355.97,35.78 L356.57,34.38 L357.17,33.04 L357.77,31.76 L358.36,30.54 L358.96,29.36 L359.56,28.24 L360.16,27.17 L360.76,26.15 L361.35,25.17 L361.95,24.24 L362.55,23.35 L363.15,22.50 L363.75,21.70 L364.34,20.93 L364.94,20.21 L365.54,19.52 L366.14,18.87 L366.74,18.26 L367.33,17.68 L367.93,17.14 L368.53,16.64 L369.13,16.17 L369.73,15.73 L370.32,15.33 L370.92,14.96 L371.52,14.62 L372.12,14.32 L372.72,14.04 L373.31,13.80 L373.91,13.59 L374.51,13.42 L375.11,13.27 L375.71,13.16 L376.30,13.07 L376.90,13.02 L377.50,13.00 L378.10,13.01 L378.70,13.05 L379.29,13.12 L379.89,13.22 L380.49,13.36 L381.09,13.52 L381.69,13.71 L382.28,13.94 L382.88,14.20 L383.48,14.49 L384.08,14.81 L384.68,15.17 L385.27,15.55 L385.87,15.97 L386.47,16.43 L387.07,16.91 L387.67,17.44 L388.26,17.99 L388.86,18.58 L389.46,19.21 L390.06,19.88 L390.66,20.58 L391.25,21.32 L391.85,22.09 L392.45,22.91 L393.05,23.77 L393.65,24.67 L394.24,25.62 L394.84,26.60 L395.44,27.64 L396.04,28.72 L396.64,29.85 L397.23,31.03 L397.83,32.26 L398.43,33.55 L399.03,34.90 L399.63,36.30 L400.22,37.77 L400.82,39.30 L401.42,40.90 L402.02,42.58 L402.62,44.33 L403.21,46.17 L403.81,48.09 L404.41,50.11 L405.01,52.23 L405.61,54.46 L406.20,56.81 L406.80,59.30 L407.40,61.92 L408.00,64.71 L408.60,67.67 L409.19,70.84 L409.79,74.23 L410.39,77.89 L410.99,81.85 L411.59,86.17 L412.18,90.92 L412.78,96.20 L413.38,102.15 L413.98,108.98 L414.58,117.00 L415.17,126.74 L415.77,139.20 L416.37,156.68 L416.97,186.64 L417.57,308.79 L418.16,183.82 L418.76,157.03 L419.36,141.39 L419.96,130.43 L420.56,122.07 L421.15,115.36 L421.75,109.81 L422.35,105.10 L422.95,101.06 L423.55,97.53 L424.14,94.44 L424.74,91.69 L425.34,89.26 L425.94,87.08 L426.54,85.13 L427.13,83.38 L427.73,81.82 L428.33,80.41 L428.93,79.16 L429.53,78.04 L430.12,77.04 L430.72,76.15 L431.32,75.38 L431.92,74.70 L432.52,74.12 L433.11,73.63 L433.71,73.22 L434.31,72.89 L434.91,72.64 L435.51,72.46 L436.10,72.35 L436.70,72.31 L437.30,72.34 L437.90,72.43 L438.50,72.59 L439.09,72.81 L439.69,73.08 L440.29,73.42 L440.89,73.82 L441.49,74.27 L442.08,74.78 L442.68,75.34 L443.28,75.97 L443.88,76.64 L444.48,77.38 L445.07,78.17 L445.67,79.01 L446.27,79.91 L446.87,80.87 L447.47,81.89 L448.06,82.96 L448.66,84.09 L449.26,85.28 L449.86,86.53 L450.46,87.85 L451.05,89.22 L451.65,90.66 L452.25,92.16 L452.85,93.73 L453.45,95.38 L454.04,97.09 L454.64,98.87 L455.24,100.73 L455.84,102.67 L456.44,104.70 L457.03,106.81 L457.63,109.00 L458.23,111.30 L458.83,113.69 L459.43,116.18 L460.02,118.79 L460.62,121.51 L461.22,124.44 L461.82,127.67 L462.42,131.20 L463.01,135.04 L463.61,139.20 L464.21,143.64 L464.81,148.37 L465.41,153.34 L466.00,158.53 L466.60,163.91 L467.20,169.46 L467.80,175.32 L468.40,181.71 L468.99,188.74 L469.59,196.55 L470.19,205.38 L470.79,215.55 L471.39,227.64 L471.98,242.71 L472.58,247.44 L473.18,252.79 L473.78,258.94 L474.38,266.18 L474.97,274.98 L475.57,286.22 L476.17,301.75 L476.77,327.08 L477.37,406.72 L477.96,328.13 L478.56,295.87 L479.16,278.05 L479.76,265.68 L480.36,256.19 L480.95,248.49 L481.55,242.02 L482.15,236.43 L482.75,231.51 L483.35,219.98 L483.94,210.33 L484.54,202.02 L485.14,194.70 L485.74,188.15 L486.34,182.24 L486.93,176.84 L487.53,171.89 L488.13,167.31 L488.73,163.06 L489.33,159.10 L489.92,155.39 L490.52,151.91 L491.12,148.63 L491.72,145.55 L492.32,142.63 L492.91,139.87 L493.51,137.25 L494.11,134.77 L494.71,132.42 L495.31,130.17 L495.90,128.04 L496.50,126.01 L497.10,124.07 L497.70,122.23 L498.30,120.47 L498.89,118.79 L499.49,117.19 L500.09,115.66 L500.69,114.20 L501.29,112.81 L501.88,111.48 L502.48,110.22 L503.08,109.01 L503.68,107.86 L504.28,106.76 L504.87,105.72 L505.47,104.72 L506.07,103.78 L506.67,102.88 L507.27,102.03 L507.86,101.23 L508.46,100.46 L509.06,99.74 L509.66,99.06 L510.26,98.42 L510.85,97.82 L511.45,97.26 L512.05,96.74 L512.65,96.25 L513.25,95.79 L513.84,95.37 L514.44,94.99 L515.04,94.64 L515.64,94.32 L516.24,94.03 L516.83,93.77 L517.43,93.55 L518.03,93.36 L518.63,93.19 L519.23,93.06 L519.82,92.95 L520.42,92.88 L521.02,92.83 L521.62,92.81 L522.22,92.82 L522.81,92.86 L523.41,92.92 L524.01,93.01 L524.61,93.13 L525.21,93.27 L525.80,93.45 L526.40,93.64 L527.00,93.87 L527.60,94.11 L528.20,94.39 L528.79,94.69 L529.39,95.02 L529.99,95.37 L530.59,95.75 L531.19,96.15 L531.78,96.58 L532.38,97.03 L532.98,97.51 L533.58,98.02 L534.18,98.55 L534.77,99.10 L535.37,99.69 L535.97,100.29 L536.57,100.93 L537.17,101.59 L537.76,102.27 L538.36,102.99 L538.96,103.72 L539.56,104.49 L540.16,105.28 L540.75,106.10 L541.35,106.95 L541.95,107.83 L542.55,108.73 L543.15,109.66 L543.74,110.62 L544.34,111.61 L544.94,112.64 L545.54,113.69 L546.14,114.77 L546.73,115.88 L547.33,117.03 L547.93,118.21 L548.53,119.42 L549.13,120.67 L549.72,121.95 L550.32,123.27 L550.92,124.62 L551.52,126.02 L552.12,127.45 L552.71,128.92 L553.31,130.44 L553.91,132.00 L554.51,133.60 L555.11,135.25 L555.70,136.94 L556.30,138.69 L556.90,140.49 L557.50,142.34 L558.10,144.25 L558.69,146.22 L559.29,148.25 L559.89,150.35 L560.49,152.52 L561.09,154.76 L561.68,157.08 L562.28,159.48 L562.88,161.97 L563.48,164.56 L564.08,167.25 L564.67,170.05 L565.27,172.97 L565.87,176.03 L566.47,179.22 L567.07,182.58 L567.66,186.12 L568.26,189.85 L568.86,193.81 L569.46,198.03 L570.06,202.55 L570.65,207.41 L571.25,212.69 L571.85,218.48 L572.45,224.89 L573.05,232.11 L573.64,240.41 L574.24,250.23 L574.84,262.36 L575.44,278.48 L576.04,303.25 L576.63,365.08 L577.23,331.09 L577.83,296.39 L578.43,279.03 L579.03,267.73 L579.62,259.58 L580.22,253.39 L580.82,248.53 L581.42,244.65 L582.02,241.53 L582.61,239.04 L583.21,237.06 L583.81,235.52 L584.41,234.37 L585.01,233.58 L585.60,233.12 L586.20,232.98 L586.80,233.14 L587.40,233.60 L588.00,234.36 L588.59,235.44 L589.19,236.85 L589.79,238.62 L590.39,240.79 L590.99,243.41 L591.58,246.55 L592.18,250.33 L592.78,254.90 L593.38,260.49 L593.98,267.47 L594.57,276.52 L595.17,288.97 L595.77,308.20 L596.37,348.83 L596.97,359.17 L597.56,309.28 L598.16,286.80 L598.76,271.94 L599.36,260.74 L599.96,251.71 L600.55,244.13 L601.15,237.57 L601.75,231.79 L602.35,226.62 L602.95,221.94 L603.54,217.65 L604.14,213.71 L604.74,210.05 L605.34,206.65 L605.94,203.46 L606.53,200.46 L607.13,197.64 L607.73,194.97 L608.33,192.43 L608.93,190.13 L609.52,188.18 L610.12,186.52 L610.72,185.06 L611.32,183.75 L611.92,182.51 L612.51,181.27 L613.11,179.99 L613.71,178.63 L614.31,177.17 L614.91,175.58 L615.50,173.93 L616.10,172.34 L616.70,170.81 L617.30,169.33 L617.90,167.91 L618.49,166.53 L619.09,165.21 L619.69,163.92 L620.29,162.68 L620.89,161.48 L621.48,160.32 L622.08,159.20 L622.68,158.11 L623.28,157.05 L623.88,156.03 L624.47,155.04 L625.07,154.08 L625.67,153.14 L626.27,152.24 L626.87,151.35 L627.46,150.50 L628.06,149.67 L628.66,148.86 L629.26,148.08 L629.86,147.32 L630.45,146.58 L631.05,145.86 L631.65,145.16 L632.25,144.48 L632.85,143.81 L633.44,143.17 L634.04,142.55 L634.64,141.94 L635.24,141.34 L635.84,140.77 L636.43,140.21 L637.03,139.66 L637.63,139.13 L638.23,138.62 L638.83,138.11 L639.42,137.63 L640.02,137.15 L640.62,136.69 L641.22,136.24 L641.82,135.80 L642.41,135.38 L643.01,134.97 L643.61,134.56 L644.21,134.17 L644.81,133.80 L645.40,133.43 L646.00,133.07 L646.60,132.72 L647.20,132.38 L647.80,132.05 L648.39,131.74 L648.99,131.43 L649.59,131.13 L650.19,130.84 L650.79,130.55 L651.38,130.28 L651.98,130.02 L652.58,129.76 L653.18,129.51 L653.78,129.27 L654.37,129.04 L654.97,128.81 L655.57,128.60 L656.17,128.39 L656.77,128.18 L657.36,127.99 L657.96,127.80 L658.56,127.62 L659.16,127.45 L659.76,127.28 L660.35,127.12 L660.95,126.96 L661.55,126.82 L662.15,126.67 L662.75,126.54 L663.34,126.41 L663.94,126.29 L664.54,126.17 L665.14,126.06 L665.74,125.96 L666.33,125.86 L666.93,125.77 L667.53,125.68 L668.13,125.60 L668.73,125.53 L669.32,125.46 L669.92,125.40 L670.52,125.34 L671.12,125.29 L671.72,125.24 L672.31,125.20 L672.91,125.16 L673.51,125.13 L674.11,125.11 L674.71,125.09 L675.30,125.08 L675.90,125.07 L676.50,125.06" stroke="#000000" stroke-width="1.1" fill="none" stroke-linejoin="round"/>
<g stroke-width="1.1"><path d="M73.50,125.06h10M78.50,120.06v10M74.90,121.46l7.2,7.2M74.90,128.66l7.2,-7.2" stroke="#000000" fill="none"/><path d="M97.42,121.04h10M102.42,116.04v10M98.82,117.44l7.2,7.2M98.82,124.64l7.2,-7.2" stroke="#000000" fill="none"/><path d="M121.34,112.40h10M126.34,107.40v10M122.74,108.80l7.2,7.2M122.74,116.00l7.2,-7.2" stroke="#000000" fill="none"/><path d="M145.26,107.53h10M150.26,102.53v10M146.66,103.93l7.2,7.2M146.66,111.13l7.2,-7.2" stroke="#000000" fill="none"/><path d="M169.18,121.65h10M174.18,116.65v10M170.58,118.05l7.2,7.2M170.58,125.25l7.2,-7.2" stroke="#000000" fill="none"/><path d="M193.10,169.77h10M198.10,164.77v10M194.50,166.17l7.2,7.2M194.50,173.37l7.2,-7.2" stroke="#000000" fill="none"/><path d="M217.02,104.27h10M222.02,99.27v10M218.42,100.67l7.2,7.2M218.42,107.87l7.2,-7.2" stroke="#000000" fill="none"/><path d="M240.94,144.43h10M245.94,139.43v10M242.34,140.83l7.2,7.2M242.34,148.03l7.2,-7.2" stroke="#000000" fill="none"/><path d="M264.86,97.94h10M269.86,92.94v10M266.26,94.34l7.2,7.2M266.26,101.54l7.2,-7.2" stroke="#000000" fill="none"/><path d="M288.78,145.01h10M293.78,140.01v10M290.18,141.41l7.2,7.2M290.18,148.61l7.2,-7.2" stroke="#000000" fill="none"/><path d="M312.70,75.55h10M317.70,70.55v10M314.10,71.95l7.2,7.2M314.10,79.15l7.2,-7.2" stroke="#000000" fill="none"/><path d="M336.62,108.93h10M341.62,103.93v10M338.02,105.33l7.2,7.2M338.02,112.53l7.2,-7.2" stroke="#000000" fill="none"/><path d="M360.54,19.52h10M365.54,14.52v10M361.94,15.92l7.2,7.2M361.94,23.12l7.2,-7.2" stroke="#000000" fill="none"/><path d="M384.46,19.21h10M389.46,14.21v10M385.86,15.61l7.2,7.2M385.86,22.81l7.2,-7.2" stroke="#000000" fill="none"/><path d="M408.38,102.15h10M413.38,97.15v10M409.78,98.55l7.2,7.2M409.78,105.75l7.2,-7.2" stroke="#000000" fill="none"/><path d="M432.30,72.34h10M437.30,67.34v10M433.70,68.74l7.2,7.2M433.70,75.94l7.2,-7.2" stroke="#000000" fill="none"/><path d="M456.22,124.44h10M461.22,119.44v10M457.62,120.84l7.2,7.2M457.62,128.04l7.2,-7.2" stroke="#000000" fill="none"/><path d="M480.14,194.70h10M485.14,189.70v10M481.54,191.10l7.2,7.2M481.54,198.30l7.2,-7.2" stroke="#000000" fill="none"/><path d="M504.06,99.74h10M509.06,94.74v10M505.46,96.14l7.2,7.2M505.46,103.34l7.2,-7.2" stroke="#000000" fill="none"/><path d="M527.98,97.51h10M532.98,92.51v10M529.38,93.91l7.2,7.2M529.38,101.11l7.2,-7.2" stroke="#000000" fill="none"/><path d="M551.90,140.49h10M556.90,135.49v10M553.30,136.89l7.2,7.2M553.30,144.09l7.2,-7.2" stroke="#000000" fill="none"/><path d="M575.82,248.53h10M580.82,243.53v10M577.22,244.93l7.2,7.2M577.22,252.13l7.2,-7.2" stroke="#000000" fill="none"/><path d="M599.74,210.05h10M604.74,205.05v10M601.14,206.45l7.2,7.2M601.14,213.65l7.2,-7.2" stroke="#000000" fill="none"/><path d="M623.66,148.86h10M628.66,143.86v10M625.06,145.26l7.2,7.2M625.06,152.46l7.2,-7.2" stroke="#000000" fill="none"/><path d="M647.58,129.76h10M652.58,124.76v10M648.98,126.16l7.2,7.2M648.98,133.36l7.2,-7.2" stroke="#000000" fill="none"/><path d="M671.50,125.06h10M676.50,120.06v10M672.90,121.46l7.2,7.2M672.90,128.66l7.2,-7.2" stroke="#000000" fill="none"/></g>
<path clip-path="url(#c)" d="M78.50,125.06 L79.10,125.06 L79.70,125.05 L80.29,125.04 L80.89,125.02 L81.49,125.00 L82.09,124.97 L82.69,124.93 L83.28,124.89 L83.88,124.85 L84.48,124.79 L85.08,124.74 L85.68,124.68 L86.27,124.61 L86.87,124.54 L87.47,124.46 L88.07,124.38 L88.67,124.29 L89.26,124.20 L89.86,124.10 L90.46,124.00 L91.06,123.89 L91.66,123.78 L92.25,123.66 L92.85,123.54 L93.45,123.42 L94.05,123.29 L94.65,123.15 L95.24,123.01 L95.84,122.87 L96.44,122.72 L97.04,122.57 L97.64,122.41 L98.23,122.26 L98.83,122.09 L99.43,121.93 L100.03,121.76 L100.63,121.58 L101.22,121.40 L101.82,121.22 L102.42,121.04 L103.02,120.85 L103.62,120.66 L104.21,120.47 L104.81,120.27 L105.41,120.07 L106.01,119.87 L106.61,119.67 L107.20,119.46 L107.80,119.26 L108.40,119.04 L109.00,118.83 L109.60,118.62 L110.19,118.40 L110.79,118.19 L111.39,117.97 L111.99,117.75 L112.59,117.52 L113.18,117.30 L113.78,117.08 L114.38,116.85 L114.98,116.63 L115.58,116.40 L116.17,116.18 L116.77,115.95 L117.37,115.72 L117.97,115.50 L118.57,115.27 L119.16,115.04 L119.76,114.82 L120.36,114.59 L120.96,114.37 L121.56,114.14 L122.15,113.92 L122.75,113.70 L123.35,113.48 L123.95,113.26 L124.55,113.04 L125.14,112.82 L125.74,112.61 L126.34,112.40 L126.94,112.19 L127.54,111.98 L128.13,111.77 L128.73,111.57 L129.33,111.37 L129.93,111.17 L130.53,110.98 L131.12,110.79 L131.72,110.60 L132.32,110.42 L132.92,110.24 L133.52,110.06 L134.11,109.89 L134.71,109.73 L135.31,109.56 L135.91,109.40 L136.51,109.25 L137.10,109.10 L137.70,108.96 L138.30,108.82 L138.90,108.69 L139.50,108.56 L140.09,108.44 L140.69,108.33 L141.29,108.22 L141.89,108.12 L142.49,108.03 L143.08,107.94 L143.68,107.86 L144.28,107.79 L144.88,107.72 L145.48,107.66 L146.07,107.62 L146.67,107.58 L147.27,107.54 L147.87,107.52 L148.47,107.51 L149.06,107.50 L149.66,107.51 L150.26,107.53 L150.86,107.55 L151.46,107.59 L152.05,107.64 L152.65,107.70 L153.25,107.77 L153.85,107.85 L154.45,107.95 L155.04,108.06 L155.64,108.18 L156.24,108.31 L156.84,108.46 L157.44,108.62 L158.03,108.80 L158.63,108.99 L159.23,109.20 L159.83,109.43 L160.43,109.67 L161.02,109.93 L161.62,110.21 L162.22,110.50 L162.82,110.82 L163.42,111.15 L164.01,111.51 L164.61,111.88 L165.21,112.28 L165.81,112.70 L166.41,113.15 L167.00,113.62 L167.60,114.12 L168.20,114.64 L168.80,115.19 L169.40,115.77 L169.99,116.38 L170.59,117.03 L171.19,117.70 L171.79,118.41 L172.39,119.16 L172.98,119.95 L173.58,120.78 L174.18,121.65 L174.78,122.56 L175.38,123.53 L175.97,124.55 L176.57,125.62 L177.17,126.74 L177.77,127.93 L178.37,129.19 L178.96,130.52 L179.56,131.92 L180.16,133.41 L180.76,134.99 L181.36,136.66 L181.95,138.45 L182.55,140.35 L183.15,142.39 L183.75,144.57 L184.35,146.92 L184.94,149.45 L185.54,152.20 L186.14,155.19 L186.74,158.47 L187.34,162.09 L187.93,166.12 L188.53,170.65 L189.13,175.81 L189.73,181.79 L190.33,188.88 L190.92,197.56 L191.52,208.72 L192.12,224.29 L192.72,250.00 L193.32,337.18 L193.91,260.78 L194.51,229.22 L195.11,211.54 L195.71,199.18 L196.31,189.67 L196.90,181.93 L197.50,175.41 L198.10,169.77 L198.70,164.82 L199.30,160.40 L199.89,156.41 L200.49,152.78 L201.09,149.46 L201.69,146.39 L202.29,143.55 L202.88,140.91 L203.48,138.44 L204.08,136.13 L204.68,133.96 L205.28,131.92 L205.87,129.99 L206.47,128.17 L207.07,126.45 L207.67,124.82 L208.27,123.28 L208.86,121.82 L209.46,120.43 L210.06,119.12 L210.66,117.87 L211.26,116.69 L211.85,115.57 L212.45,114.51 L213.05,113.50 L213.65,112.55 L214.25,111.66 L214.84,110.81 L215.44,110.01 L216.04,109.26 L216.64,108.56 L217.24,107.91 L217.83,107.30 L218.43,106.74 L219.03,106.22 L219.63,105.74 L220.23,105.31 L220.82,104.92 L221.42,104.57 L222.02,104.27 L222.62,104.00 L223.22,103.79 L223.81,103.61 L224.41,103.48 L225.01,103.39 L225.61,103.34 L226.21,103.34 L226.80,103.38 L227.40,103.47 L228.00,103.60 L228.60,103.79 L229.20,104.02 L229.79,104.30 L230.39,104.63 L230.99,105.02 L231.59,105.46 L232.19,105.95 L232.78,106.51 L233.38,107.12 L233.98,107.80 L234.58,108.54 L235.18,109.36 L235.77,110.25 L236.37,111.21 L236.97,112.26 L237.57,113.39 L238.17,114.62 L238.76,115.95 L239.36,117.39 L239.96,118.95 L240.56,120.63 L241.16,122.46 L241.75,124.44 L242.35,126.59 L242.95,128.94 L243.55,131.51 L244.15,134.32 L244.74,137.44 L245.34,140.89 L245.94,144.76 L246.54,149.12 L247.14,154.11 L247.73,159.91 L248.33,166.79 L248.93,175.22 L249.53,186.00 L250.13,200.92 L250.72,225.01 L251.32,292.84 L251.92,244.21 L252.52,209.87 L253.12,191.37 L253.71,178.64 L254.31,168.91 L254.91,161.04 L255.51,154.45 L256.11,148.78 L256.70,143.81 L257.30,139.40 L257.90,135.44 L258.50,131.86 L259.10,128.59 L259.69,125.60 L260.29,122.84 L260.89,120.30 L261.49,117.94 L262.09,115.75 L262.68,113.72 L263.28,111.82 L263.88,110.05 L264.48,108.41 L265.08,106.87 L265.67,105.44 L266.27,104.11 L266.87,102.87 L267.47,101.72 L268.07,100.65 L268.66,99.67 L269.26,98.76 L269.86,97.94 L270.46,97.18 L271.06,96.50 L271.65,95.89 L272.25,95.35 L272.85,94.88 L273.45,94.48 L274.05,94.14 L274.64,93.88 L275.24,93.68 L275.84,93.55 L276.44,93.49 L277.04,93.50 L277.63,93.58 L278.23,93.73 L278.83,93.95 L279.43,94.25 L280.03,94.63 L280.62,95.09 L281.22,95.63 L281.82,96.26 L282.42,96.98 L283.02,97.80 L283.61,98.71 L284.21,99.73 L284.81,100.87 L285.41,102.13 L286.01,103.53 L286.60,105.06 L287.20,106.75 L287.80,108.62 L288.40,110.68 L289.00,112.96 L289.59,115.48 L290.19,118.28 L290.79,121.41 L291.39,124.93 L291.99,128.91 L292.58,133.47 L293.18,138.76 L293.78,145.01 L294.38,152.60 L294.98,162.15 L295.57,174.94 L296.17,194.08 L296.77,232.26 L297.37,255.64 L297.97,200.93 L298.56,178.13 L299.16,163.45 L299.76,152.60 L300.36,143.99 L300.96,136.84 L301.55,130.75 L302.15,125.45 L302.75,120.76 L303.35,116.57 L303.95,112.79 L304.54,109.35 L305.14,106.21 L305.74,103.32 L306.34,100.66 L306.94,98.20 L307.53,95.92 L308.13,93.81 L308.73,91.85 L309.33,90.03 L309.93,88.33 L310.52,86.76 L311.12,85.30 L311.72,83.95 L312.32,82.70 L312.92,81.55 L313.51,80.50 L314.11,79.54 L314.71,78.66 L315.31,77.87 L315.91,77.17 L316.50,76.55 L317.10,76.01 L317.70,75.55 L318.30,75.18 L318.90,74.89 L319.49,74.68 L320.09,74.55 L320.69,74.51 L321.29,74.55 L321.89,74.68 L322.48,74.91 L323.08,75.23 L323.68,75.64 L324.28,76.16 L324.88,76.79 L325.47,77.53 L326.07,78.39 L326.67,79.38 L327.27,80.52 L327.87,81.80 L328.46,83.25 L329.06,84.88 L329.66,86.71 L330.26,88.78 L330.86,91.10 L331.45,93.72 L332.05,96.70 L332.65,100.09 L333.25,103.99 L333.85,108.53 L334.44,113.88 L335.04,120.33 L335.64,128.33 L336.24,138.73 L336.84,153.32 L337.43,177.27 L338.03,247.73 L338.63,193.81 L339.23,159.64 L339.83,140.88 L340.42,127.78 L341.02,117.66 L341.62,109.39 L342.22,102.38 L342.82,96.29 L343.41,90.90 L344.01,86.06 L344.61,81.67 L345.21,77.65 L345.81,73.95 L346.40,70.51 L347.00,67.31 L347.60,64.32 L348.20,61.50 L348.80,58.86 L349.39,56.35 L349.99,53.99 L350.59,51.74 L351.19,49.61 L351.79,47.59 L352.38,45.66 L352.98,43.82 L353.58,42.06 L354.18,40.38 L354.78,38.78 L355.37,37.25 L355.97,35.78 L356.57,34.38 L357.17,33.04 L357.77,31.76 L358.36,30.54 L358.96,29.36 L359.56,28.24 L360.16,27.17 L360.76,26.15 L361.35,25.17 L361.95,24.24 L362.55,23.35 L363.15,22.50 L363.75,21.70 L364.34,20.93 L364.94,20.21 L365.54,19.52 L366.14,18.87 L366.74,18.26 L367.33,17.68 L367.93,17.14 L368.53,16.64 L369.13,16.17 L369.73,15.73 L370.32,15.33 L370.92,14.96 L371.52,14.62 L372.12,14.32 L372.72,14.04 L373.31,13.80 L373.91,13.59 L374.51,13.42 L375.11,13.27 L375.71,13.16 L376.30,13.07 L376.90,13.02 L377.50,13.00 L378.10,13.01 L378.70,13.05 L379.29,13.12 L379.89,13.22 L380.49,13.36 L381.09,13.52 L381.69,13.71 L382.28,13.94 L382.88,14.20 L383.48,14.49 L384.08,14.81 L384.68,15.17 L385.27,15.55 L385.87,15.97 L386.47,16.43 L387.07,16.91 L387.67,17.44 L388.26,17.99 L388.86,18.58 L389.46,19.21 L390.06,19.88 L390.66,20.58 L391.25,21.32 L391.85,22.09 L392.45,22.91 L393.05,23.77 L393.65,24.67 L394.24,25.62 L394.84,26.60 L395.44,27.64 L396.04,28.72 L396.64,29.85 L397.23,31.03 L397.83,32.26 L398.43,33.55 L399.03,34.90 L399.63,36.30 L400.22,37.77 L400.82,39.30 L401.42,40.90 L402.02,42.58 L402.62,44.33 L403.21,46.17 L403.81,48.09 L404.41,50.11 L405.01,52.23 L405.61,54.46 L406.20,56.81 L406.80,59.30 L407.40,61.92 L408.00,64.71 L408.60,67.67 L409.19,70.84 L409.79,74.23 L410.39,77.89 L410.99,81.85 L411.59,86.17 L412.18,90.92 L412.78,96.20 L413.38,102.15 L413.98,108.98 L414.58,117.00 L415.17,126.74 L415.77,139.20 L416.37,156.68 L416.97,186.64 L417.57,308.79 L418.16,183.82 L418.76,157.03 L419.36,141.39 L419.96,130.43 L420.56,122.07 L421.15,115.36 L421.75,109.81 L422.35,105.10 L422.95,101.06 L423.55,97.53 L424.14,94.44 L424.74,91.69 L425.34,89.26 L425.94,87.08 L426.54,85.13 L427.13,83.38 L427.73,81.82 L428.33,80.41 L428.93,79.16 L429.53,78.04 L430.12,77.04 L430.72,76.15 L431.32,75.38 L431.92,74.70 L432.52,74.12 L433.11,73.63 L433.71,73.22 L434.31,72.89 L434.91,72.64 L435.51,72.46 L436.10,72.35 L436.70,72.31 L437.30,72.34 L437.90,72.43 L438.50,72.59 L439.09,72.81 L439.69,73.08 L440.29,73.42 L440.89,73.82 L441.49,74.27 L442.08,74.78 L442.68,75.34 L443.28,75.97 L443.88,76.64 L444.48,77.38 L445.07,78.17 L445.67,79.01 L446.27,79.91 L446.87,80.87 L447.47,81.89 L448.06,82.96 L448.66,84.09 L449.26,85.28 L449.86,86.53 L450.46,87.85 L451.05,89.22 L451.65,90.66 L452.25,92.16 L452.85,93.73 L453.45,95.38 L454.04,97.09 L454.64,98.87 L455.24,100.73 L455.84,102.67 L456.44,104.70 L457.03,106.81 L457.63,109.00 L458.23,111.30 L458.83,113.69 L459.43,116.18 L460.02,118.79 L460.62,121.51 L461.22,124.35 L461.82,127.33 L462.42,130.45 L463.01,133.72 L463.61,137.15 L464.21,140.77 L464.81,144.58 L465.41,148.60 L466.00,152.86 L466.60,157.38 L467.20,162.20 L467.80,167.35 L468.40,172.88 L468.99,178.86 L469.59,185.35 L470.19,192.47 L470.79,200.36 L471.39,209.22 L471.98,219.33 L472.58,231.20 L473.18,245.68 L473.78,264.58 L474.38,293.02 L474.97,365.97 L475.57,321.92 L476.17,293.55 L476.77,281.83 L477.37,277.03 L477.96,276.96 L478.56,281.52 L479.16,292.49 L479.76,317.50 L480.36,407.06 L480.95,301.26 L481.55,270.96 L482.15,251.66 L482.75,237.19 L483.35,225.51 L483.94,215.66 L484.54,207.14 L485.14,199.61 L485.74,192.87 L486.34,186.77 L486.93,181.20 L487.53,176.08 L488.13,171.35 L488.73,166.96 L489.33,162.87 L489.92,159.03 L490.52,155.44 L491.12,152.06 L491.72,148.87 L492.32,145.86 L492.91,143.01 L493.51,140.31 L494.11,137.74 L494.71,135.31 L495.31,133.00 L495.90,130.80 L496.50,128.70 L497.10,126.70 L497.70,124.80 L498.30,122.99 L498.89,121.25 L499.49,119.60 L500.09,118.02 L500.69,116.52 L501.29,115.08 L501.88,113.71 L502.48,112.41 L503.08,111.16 L503.68,109.97 L504.28,108.84 L504.87,107.76 L505.47,106.73 L506.07,105.76 L506.67,104.83 L507.27,103.95 L507.86,103.11 L508.46,102.32 L509.06,101.57 L509.66,100.87 L510.26,100.20 L510.85,99.58 L511.45,98.99 L512.05,98.44 L512.65,97.93 L513.25,97.45 L513.84,97.01 L514.44,96.61 L515.04,96.24 L515.64,95.90 L516.24,95.59 L516.83,95.32 L517.43,95.08 L518.03,94.86 L518.63,94.68 L519.23,94.53 L519.82,94.41 L520.42,94.32 L521.02,94.26 L521.62,94.22 L522.22,94.22 L522.81,94.24 L523.41,94.29 L524.01,94.37 L524.61,94.47 L525.21,94.61 L525.80,94.77 L526.40,94.95 L527.00,95.16 L527.60,95.40 L528.20,95.66 L528.79,95.96 L529.39,96.27 L529.99,96.61 L530.59,96.98 L531.19,97.38 L531.78,97.80 L532.38,98.24 L532.98,98.71 L533.58,99.21 L534.18,99.73 L534.77,100.28 L535.37,100.86 L535.97,101.46 L536.57,102.09 L537.17,102.74 L537.76,103.42 L538.36,104.13 L538.96,104.86 L539.56,105.62 L540.16,106.41 L540.75,107.23 L541.35,108.07 L541.95,108.94 L542.55,109.85 L543.15,110.78 L543.74,111.74 L544.34,112.73 L544.94,113.75 L545.54,114.80 L546.14,115.88 L546.73,117.00 L547.33,118.15 L547.93,119.33 L548.53,120.55 L549.13,121.80 L549.72,123.09 L550.32,124.41 L550.92,125.78 L551.52,127.18 L552.12,128.62 L552.71,130.11 L553.31,131.64 L553.91,133.21 L554.51,134.83 L555.11,136.50 L555.70,138.22 L556.30,139.99 L556.90,141.81 L557.50,143.69 L558.10,145.64 L558.69,147.64 L559.29,149.72 L559.89,151.86 L560.49,154.08 L561.09,156.37 L561.68,158.76 L562.28,161.23 L562.88,163.80 L563.48,166.48 L564.08,169.27 L564.67,172.18 L565.27,175.24 L565.87,178.44 L566.47,181.81 L567.07,185.36 L567.66,189.13 L568.26,193.14 L568.86,197.42 L569.46,202.02 L570.06,207.00 L570.65,212.44 L571.25,218.45 L571.85,225.17 L572.45,232.83 L573.05,241.77 L573.64,252.62 L574.24,266.53 L574.84,286.33 L575.44,322.61 L576.04,366.27 L576.63,303.22 L577.23,280.67 L577.83,267.06 L578.43,257.52 L579.03,250.35 L579.62,244.72 L580.22,240.20 L580.82,236.51 L581.42,233.48 L582.02,230.98 L582.61,228.93 L583.21,227.26 L583.81,225.94 L584.41,224.92 L585.01,224.17 L585.60,223.69 L586.20,223.46 L586.80,223.46 L587.40,223.70 L588.00,224.17 L588.59,224.87 L589.19,225.82 L589.79,227.01 L590.39,228.48 L590.99,230.24 L591.58,232.32 L592.18,234.76 L592.78,237.62 L593.38,240.97 L593.98,244.91 L594.57,249.60 L595.17,255.24 L595.77,262.20 L596.37,271.07 L596.97,283.05 L597.56,301.00 L598.16,335.81 L598.76,374.24 L599.36,311.07 L599.96,286.75 L600.55,271.22 L601.15,259.72 L601.75,250.54 L602.35,242.89 L602.95,236.31 L603.54,230.54 L604.14,225.39 L604.74,220.74 L605.34,216.50 L605.94,212.60 L606.53,208.99 L607.13,205.64 L607.73,202.50 L608.33,199.56 L608.93,196.79 L609.52,194.17 L610.12,191.69 L610.72,189.33 L611.32,187.09 L611.92,184.96 L612.51,182.92 L613.11,180.97 L613.71,179.10 L614.31,177.31 L614.91,175.58 L615.50,173.93 L616.10,172.34 L616.70,170.81 L617.30,169.33 L617.90,167.91 L618.49,166.53 L619.09,165.21 L619.69,163.92 L620.29,162.68 L620.89,161.48 L621.48,160.32 L622.08,159.20 L622.68,158.11 L623.28,157.05 L623.88,156.03 L624.47,155.04 L625.07,154.08 L625.67,153.14 L626.27,152.24 L626.87,151.35 L627.46,150.50 L628.06,149.67 L628.66,148.86 L629.26,148.08 L629.86,147.32 L630.45,146.58 L631.05,145.86 L631.65,145.16 L632.25,144.48 L632.85,143.81 L633.44,143.17 L634.04,142.55 L634.64,141.94 L635.24,141.34 L635.84,140.77 L636.43,140.21 L637.03,139.66 L637.63,139.13 L638.23,138.62 L638.83,138.11 L639.42,137.63 L640.02,137.15 L640.62,136.69 L641.22,136.24 L641.82,135.80 L642.41,135.38 L643.01,134.97 L643.61,134.56 L644.21,134.17 L644.81,133.80 L645.40,133.43 L646.00,133.07 L646.60,132.72 L647.20,132.38 L647.80,132.05 L648.39,131.74 L648.99,131.43 L649.59,131.13 L650.19,130.84 L650.79,130.55 L651.38,130.28 L651.98,130.02 L652.58,129.76 L653.18,129.51 L653.78,129.27 L654.37,129.04 L654.97,128.81 L655.57,128.60 L656.17,128.39 L656.77,128.18 L657.36,127.99 L657.96,127.80 L658.56,127.62 L659.16,127.45 L659.76,127.28 L660.35,127.12 L660.95,126.96 L661.55,126.82 L662.15,126.67 L662.75,126.54 L663.34,126.41 L663.94,126.29 L664.54,126.17 L665.14,126.06 L665.74,125.96 L666.33,125.86 L666.93,125.77 L667.53,125.68 L668.13,125.60 L668.73,125.53 L669.32,125.46 L669.92,125.40 L670.52,125.34 L671.12,125.29 L671.72,125.24 L672.31,125.20 L672.91,125.16 L673.51,125.13 L674.11,125.11 L674.71,125.09 L675.30,125.08 L675.90,125.07 L676.50,125.06" stroke="#dd1a1a" stroke-width="1.1" fill="none" stroke-linejoin="round"/>
<g font-family="Liberation Sans, sans-serif" font-size="18.5" fill="#000"><text x="72.6" y="20.00" text-anchor="end">0</text><text x="72.6" y="67.12" text-anchor="end">–10</text><text x="72.6" y="114.24" text-anchor="end">–20</text><text x="72.6" y="161.36" text-anchor="end">–30</text><text x="72.6" y="208.48" text-anchor="end">–40</text><text x="72.6" y="255.60" text-anchor="end">–50</text><text x="72.6" y="302.72" text-anchor="end">–60</text><text x="72.6" y="349.84" text-anchor="end">–70</text><text x="72.6" y="396.96" text-anchor="end">–80</text><text x="72.6" y="444.08" text-anchor="end">–90</text><text x="72.6" y="491.20" text-anchor="end">–100</text><text x="111.72" y="507.2" text-anchor="middle">80</text><text x="101.44" y="507.2" text-anchor="end">–</text><text x="178.17" y="507.2" text-anchor="middle">60</text><text x="167.88" y="507.2" text-anchor="end">–</text><text x="244.61" y="507.2" text-anchor="middle">40</text><text x="234.33" y="507.2" text-anchor="end">–</text><text x="311.06" y="507.2" text-anchor="middle">20</text><text x="300.77" y="507.2" text-anchor="end">–</text><text x="377.50" y="507.2" text-anchor="middle">0</text><text x="443.94" y="507.2" text-anchor="middle">20</text><text x="510.39" y="507.2" text-anchor="middle">40</text><text x="576.83" y="507.2" text-anchor="middle">60</text><text x="643.28" y="507.2" text-anchor="middle">80</text><text x="377.3" y="528.4" text-anchor="middle">Direction (Degree)</text><text transform="translate(19.2,248.7) rotate(-90)" text-anchor="middle" font-size="18.35">Beampattern (dB)</text></g>
<rect x="87.5" y="312.4" width="223.7" height="162.5" fill="#fff" stroke="#000" stroke-width="1"/>
<line x1="98.2" y1="326.70" x2="154" y2="326.70" stroke="#20dada" stroke-width="1.1"/><g stroke-width="1.1"><path d="M121.40,326.70h9.6M126.20,321.90v9.6" stroke="#20dada" fill="none"/></g><text x="159.2" y="333.20" font-family="Liberation Sans, sans-serif" font-size="18.5">LCMV</text><line x1="98.2" y1="349.07" x2="154" y2="349.07" stroke="#1c1cd8" stroke-width="1.1"/><g stroke-width="1.1"><rect x="121.90" y="344.77" width="8.6" height="8.6" stroke="#1c1cd8" fill="none"/></g><text x="159.2" y="355.57" font-family="Liberation Sans, sans-serif" font-size="18.5">Subspace</text><line x1="98.2" y1="371.44" x2="154" y2="371.44" stroke="#f020f0" stroke-width="1.1"/><g stroke-width="1.1"><path d="M126.20,364.34L131.30,371.44L126.20,378.54L121.10,371.44Z" stroke="#f020f0" fill="none"/></g><text x="159.2" y="377.94" font-family="Liberation Sans, sans-serif" font-size="18.5">Method of [28]</text><line x1="98.2" y1="393.81" x2="154" y2="393.81" stroke="#1c1cd8" stroke-width="1.1"/><g stroke-width="1.1"><path d="M122.40,390.01l7.6,7.6M122.40,397.61l7.6,-7.6" stroke="#1c1cd8" fill="none"/></g><text x="159.2" y="400.31" font-family="Liberation Sans, sans-serif" font-size="18.5">Method of [25]</text><line x1="98.2" y1="416.18" x2="154" y2="416.18" stroke="#22cc22" stroke-width="1.1"/><g stroke-width="1.1"><circle cx="126.20" cy="416.18" r="5.5" stroke="#22cc22" fill="none"/></g><text x="159.2" y="422.68" font-family="Liberation Sans, sans-serif" font-size="18.5">Method of [26]</text><line x1="98.2" y1="438.55" x2="154" y2="438.55" stroke="#000000" stroke-width="1.1"/><g stroke-width="1.1"><path d="M121.20,438.55h10M126.20,433.55v10M122.60,434.95l7.2,7.2M122.60,442.15l7.2,-7.2" stroke="#000000" fill="none"/></g><text x="159.2" y="445.05" font-family="Liberation Sans, sans-serif" font-size="18.5">Proposed method</text><line x1="98.2" y1="460.92" x2="154" y2="460.92" stroke="#dd1a1a" stroke-width="1.1"/><text x="159.2" y="467.42" font-family="Liberation Sans, sans-serif" font-size="18.5">MaxSINR</text>
</svg></body></html>
